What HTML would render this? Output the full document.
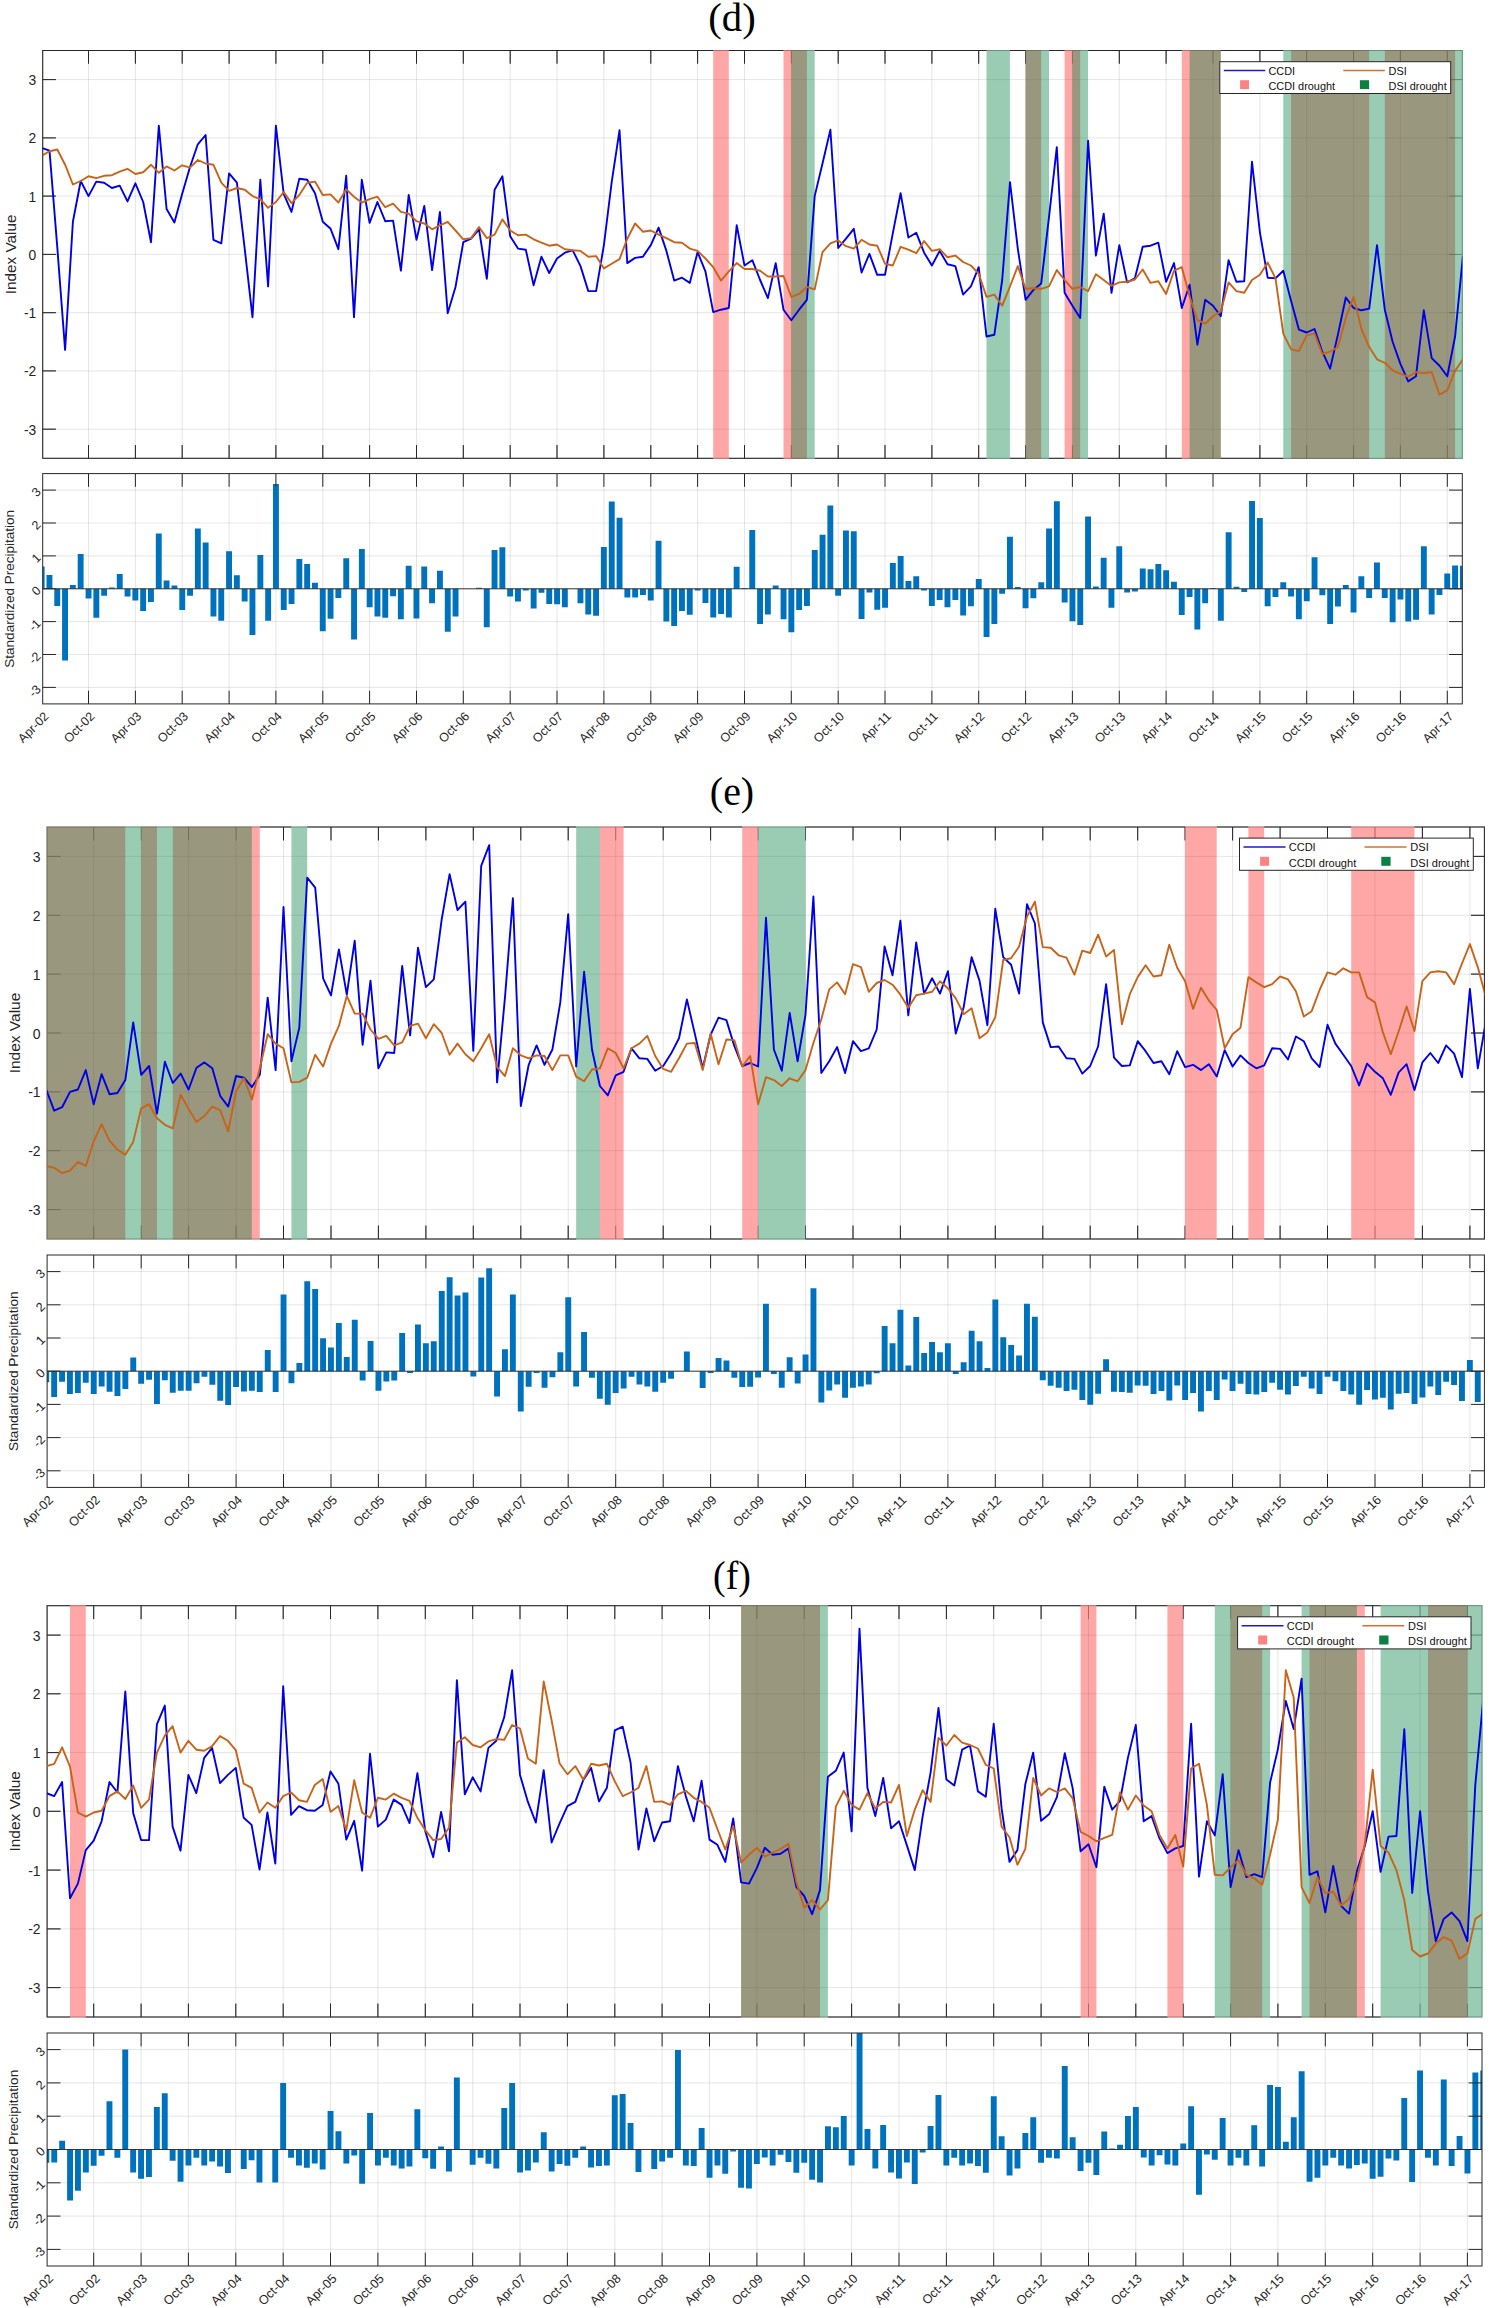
<!DOCTYPE html>
<html><head><meta charset="utf-8"><title>CCDI and DSI drought index comparison</title>
<style>
html,body{margin:0;padding:0;background:#fff}
svg{display:block}
text{font-family:"Liberation Sans",Arial,sans-serif;fill:#262626}
.ttl{font-family:"Liberation Serif","DejaVu Serif",serif;font-size:41px;text-anchor:middle;fill:#000}
.tk{font-size:14px}
.e{text-anchor:end}
.lab{font-size:15.5px;text-anchor:middle}
.lab2{font-size:13.7px;text-anchor:middle}
.lg{font-size:11.05px;fill:#111}
.grid{stroke:#262626;stroke-opacity:.115;stroke-width:1;fill:none}
.ax{stroke:#262626;stroke-width:1;fill:none}
.box{stroke:#262626;stroke-width:1;fill:none}
.un{opacity:.42}
.base{stroke:#262626;stroke-width:0.9;fill:none}
.leg{stroke:#262626;stroke-width:1;fill:#fff}
.pr{fill:#ff0000;fill-opacity:.345}
.pg{fill:#008040;fill-opacity:.4}
.lb{stroke:#0000e6;stroke-width:1.9;fill:none;stroke-linejoin:round}
.lo{stroke:#c8641a;stroke-width:1.9;fill:none;stroke-linejoin:round}
.ll{stroke-width:1.5;fill:none}
.lbc{stroke:#1c1cc4}
.loc{stroke:#d9702a}
.bar{fill:#0072bd}
</style></head>
<body>
<svg width="1498" height="2308" viewBox="0 0 1498 2308">
<rect width="1498" height="2308" fill="#fff"/>
<text class="ttl" x="732" y="30.5" textLength="47.5" lengthAdjust="spacingAndGlyphs">(d)</text>
<clipPath id="c1"><rect x="42.7" y="50.5" width="1419.6" height="407.8"/></clipPath>
<path class="grid" d="M88.5 50.5V458.3M135.4 50.5V458.3M182.2 50.5V458.3M229.1 50.5V458.3M275.9 50.5V458.3M322.8 50.5V458.3M369.6 50.5V458.3M416.5 50.5V458.3M463.3 50.5V458.3M510.2 50.5V458.3M557 50.5V458.3M603.9 50.5V458.3M650.8 50.5V458.3M697.6 50.5V458.3M744.5 50.5V458.3M791.3 50.5V458.3M838.2 50.5V458.3M885 50.5V458.3M931.9 50.5V458.3M978.7 50.5V458.3M1025.6 50.5V458.3M1072.4 50.5V458.3M1119.3 50.5V458.3M1166.1 50.5V458.3M1213 50.5V458.3M1259.9 50.5V458.3M1306.7 50.5V458.3M1353.6 50.5V458.3M1400.4 50.5V458.3M1447.3 50.5V458.3M42.7 429.2H1462.3M42.7 370.9H1462.3M42.7 312.7H1462.3M42.7 254.4H1462.3M42.7 196.1H1462.3M42.7 137.9H1462.3M42.7 79.6H1462.3"/>
<g class="un"><path class="ax" d="M88.5 50.5v13.2M88.5 458.3v-13.2M135.4 50.5v13.2M135.4 458.3v-13.2M182.2 50.5v13.2M182.2 458.3v-13.2M229.1 50.5v13.2M229.1 458.3v-13.2M275.9 50.5v13.2M275.9 458.3v-13.2M322.8 50.5v13.2M322.8 458.3v-13.2M369.6 50.5v13.2M369.6 458.3v-13.2M416.5 50.5v13.2M416.5 458.3v-13.2M463.3 50.5v13.2M463.3 458.3v-13.2M510.2 50.5v13.2M510.2 458.3v-13.2M557 50.5v13.2M557 458.3v-13.2M603.9 50.5v13.2M603.9 458.3v-13.2M650.8 50.5v13.2M650.8 458.3v-13.2M697.6 50.5v13.2M697.6 458.3v-13.2M744.5 50.5v13.2M744.5 458.3v-13.2M791.3 50.5v13.2M791.3 458.3v-13.2M838.2 50.5v13.2M838.2 458.3v-13.2M885 50.5v13.2M885 458.3v-13.2M931.9 50.5v13.2M931.9 458.3v-13.2M978.7 50.5v13.2M978.7 458.3v-13.2M1025.6 50.5v13.2M1025.6 458.3v-13.2M1072.4 50.5v13.2M1072.4 458.3v-13.2M1119.3 50.5v13.2M1119.3 458.3v-13.2M1166.1 50.5v13.2M1166.1 458.3v-13.2M1213 50.5v13.2M1213 458.3v-13.2M1259.9 50.5v13.2M1259.9 458.3v-13.2M1306.7 50.5v13.2M1306.7 458.3v-13.2M1353.6 50.5v13.2M1353.6 458.3v-13.2M1400.4 50.5v13.2M1400.4 458.3v-13.2M1447.3 50.5v13.2M1447.3 458.3v-13.2M42.7 429.2h13.2M1462.3 429.2h-13.2M42.7 370.9h13.2M1462.3 370.9h-13.2M42.7 312.7h13.2M1462.3 312.7h-13.2M42.7 254.4h13.2M1462.3 254.4h-13.2M42.7 196.1h13.2M1462.3 196.1h-13.2M42.7 137.9h13.2M1462.3 137.9h-13.2M42.7 79.6h13.2M1462.3 79.6h-13.2"/><rect class="box" x="42.7" y="50.5" width="1419.6" height="407.8"/></g>
<clipPath id="c2"><rect x="42.1" y="49.9" width="1420.8" height="409"/></clipPath>
<g clip-path="url(#c2)">
<rect class="pr" x="713.2" y="49.5" width="15.6" height="409.8"/>
<rect class="pr" x="783.5" y="49.5" width="23.4" height="409.8"/>
<rect class="pr" x="1025.6" y="49.5" width="15.6" height="409.8"/>
<rect class="pr" x="1064.6" y="49.5" width="15.6" height="409.8"/>
<rect class="pr" x="1181.8" y="49.5" width="39" height="409.8"/>
<rect class="pr" x="1291.1" y="49.5" width="78.1" height="409.8"/>
<rect class="pr" x="1384.8" y="49.5" width="70.3" height="409.8"/>
<rect class="pg" x="791.3" y="49.5" width="23.4" height="409.8"/>
<rect class="pg" x="986.5" y="49.5" width="23.4" height="409.8"/>
<rect class="pg" x="1025.6" y="49.5" width="23.4" height="409.8"/>
<rect class="pg" x="1072.4" y="49.5" width="15.6" height="409.8"/>
<rect class="pg" x="1189.6" y="49.5" width="31.2" height="409.8"/>
<rect class="pg" x="1283.3" y="49.5" width="187.4" height="409.8"/>
</g>
<clipPath id="c3"><path clip-rule="evenodd" d="M40.7 48.5H1464.3V460.3H40.7zM713.2 49H728.8V459.8H713.2zM783.5 49H814.7V459.8H783.5zM986.5 49H1010V459.8H986.5zM1025.6 49H1049V459.8H1025.6zM1064.6 49H1088.1V459.8H1064.6zM1181.8 49H1220.8V459.8H1181.8zM1283.3 49H1463.8V459.8H1283.3z"/></clipPath>
<g clip-path="url(#c3)"><path class="ax" d="M88.5 50.5v13.2M88.5 458.3v-13.2M135.4 50.5v13.2M135.4 458.3v-13.2M182.2 50.5v13.2M182.2 458.3v-13.2M229.1 50.5v13.2M229.1 458.3v-13.2M275.9 50.5v13.2M275.9 458.3v-13.2M322.8 50.5v13.2M322.8 458.3v-13.2M369.6 50.5v13.2M369.6 458.3v-13.2M416.5 50.5v13.2M416.5 458.3v-13.2M463.3 50.5v13.2M463.3 458.3v-13.2M510.2 50.5v13.2M510.2 458.3v-13.2M557 50.5v13.2M557 458.3v-13.2M603.9 50.5v13.2M603.9 458.3v-13.2M650.8 50.5v13.2M650.8 458.3v-13.2M697.6 50.5v13.2M697.6 458.3v-13.2M744.5 50.5v13.2M744.5 458.3v-13.2M791.3 50.5v13.2M791.3 458.3v-13.2M838.2 50.5v13.2M838.2 458.3v-13.2M885 50.5v13.2M885 458.3v-13.2M931.9 50.5v13.2M931.9 458.3v-13.2M978.7 50.5v13.2M978.7 458.3v-13.2M1025.6 50.5v13.2M1025.6 458.3v-13.2M1072.4 50.5v13.2M1072.4 458.3v-13.2M1119.3 50.5v13.2M1119.3 458.3v-13.2M1166.1 50.5v13.2M1166.1 458.3v-13.2M1213 50.5v13.2M1213 458.3v-13.2M1259.9 50.5v13.2M1259.9 458.3v-13.2M1306.7 50.5v13.2M1306.7 458.3v-13.2M1353.6 50.5v13.2M1353.6 458.3v-13.2M1400.4 50.5v13.2M1400.4 458.3v-13.2M1447.3 50.5v13.2M1447.3 458.3v-13.2M42.7 429.2h13.2M1462.3 429.2h-13.2M42.7 370.9h13.2M1462.3 370.9h-13.2M42.7 312.7h13.2M1462.3 312.7h-13.2M42.7 254.4h13.2M1462.3 254.4h-13.2M42.7 196.1h13.2M1462.3 196.1h-13.2M42.7 137.9h13.2M1462.3 137.9h-13.2M42.7 79.6h13.2M1462.3 79.6h-13.2"/><rect class="box" x="42.7" y="50.5" width="1419.6" height="407.8"/></g>
<g clip-path="url(#c1)">
<polyline class="lb" points="41.6,147.8 49.5,150.7 57.3,247.4 65.1,349.9 72.9,221.8 80.7,181 88.5,196.1 96.3,181.6 104.1,182.7 111.9,188 119.7,185.7 127.5,201.4 135.4,183.3 143.2,202 151,242.2 158.8,125.7 166.6,209 174.4,222.4 182.2,193.8 190,167 197.8,144.3 205.6,135 213.4,239.8 221.3,243.3 229.1,173.4 236.9,182.7 244.7,248.6 252.5,317.3 260.3,179.8 268.1,286.4 275.9,125.7 283.7,193.8 291.5,211.9 299.3,178.7 307.2,179.8 315,193.2 322.8,221.8 330.6,228.8 338.4,249.2 346.2,175.8 354,317.3 361.8,179.8 369.6,222.9 377.4,202 385.2,221.2 393.1,220.6 400.9,270.7 408.7,195 416.5,239.8 424.3,206 432.1,270.1 439.9,211.9 447.7,313.2 455.5,287 463.3,242.2 471.1,238.7 479,229.3 486.8,278.9 494.6,189.7 502.4,176.3 510.2,236.3 518,248.6 525.8,249.7 533.6,285.3 541.4,256.7 549.2,273 557,258.5 564.9,252.7 572.7,250.3 580.5,266.1 588.3,291.1 596.1,291.1 603.9,245.1 611.7,182.2 619.5,130.3 627.3,263.1 635.1,257.9 642.9,256.7 650.8,245.1 658.6,227.6 666.4,250.9 674.2,280.6 682,277.7 689.8,282.9 697.6,252.1 705.4,271.3 713.2,312.1 721,309.7 728.8,308 736.7,225.3 744.5,265.5 752.3,260.2 760.1,280 767.9,298.1 775.7,263.1 783.5,309.7 791.3,320.2 799.1,309.7 806.9,299.8 814.7,196.1 822.5,163.5 830.4,129.7 838.2,248 846,238.7 853.8,228.8 861.6,272.5 869.4,253.8 877.2,274.8 885,274.8 892.8,233.4 900.6,193.2 908.4,237.5 916.3,232.8 924.1,252.7 931.9,265.5 939.7,250.9 947.5,264.3 955.3,266.1 963.1,294.6 970.9,286.4 978.7,267.2 986.5,336.5 994.3,334.8 1002.2,280 1010,182.2 1017.8,248.6 1025.6,299.8 1033.4,289.9 1041.2,283.5 1049,217.1 1056.8,147.2 1064.6,292.8 1072.4,305.7 1080.2,317.9 1088.1,140.8 1095.9,255.6 1103.7,213.6 1111.5,292.8 1119.3,245.1 1127.1,282.4 1134.9,278.3 1142.7,246.8 1150.5,245.7 1158.3,242.7 1166.1,281.8 1174,263.1 1181.8,308 1189.6,284.7 1197.4,344.7 1205.2,299.8 1213,305.7 1220.8,316.2 1228.6,260.2 1236.4,281.8 1244.2,281.2 1252,161.8 1259.9,232.3 1267.7,277.7 1275.5,278.3 1283.3,270.7 1291.1,301 1298.9,329.6 1306.7,332.5 1314.5,329 1322.3,351.7 1330.1,368.6 1337.9,334.8 1345.8,297.5 1353.6,308 1361.4,310.3 1369.2,308.6 1377,245.1 1384.8,309.7 1392.6,341.8 1400.4,363.9 1408.2,381.4 1416,376.2 1423.8,310.3 1431.7,358.1 1439.5,365.7 1447.3,376.2 1455.1,336.5 1462.9,256.1"/>
<polyline class="lo" points="41.6,155.9 49.5,151.3 57.3,149.5 65.1,164.7 72.9,184.5 80.7,181 88.5,176.3 96.3,178.1 104.1,175.8 111.9,175.2 119.7,171.7 127.5,168.8 135.4,174 143.2,172.3 151,164.7 158.8,172.8 166.6,166.4 174.4,170.5 182.2,165.3 190,167.6 197.8,160 205.6,163.5 213.4,164.7 221.3,182.7 229.1,190.9 236.9,188 244.7,189.7 252.5,196.1 260.3,199.1 268.1,207.8 275.9,202 283.7,192.1 291.5,203.1 299.3,195 307.2,182.7 315,181.6 322.8,195 330.6,194.4 338.4,202.6 346.2,189.2 354,196.7 361.8,202.6 369.6,199.1 377.4,196.7 385.2,207.2 393.1,203.7 400.9,211.9 408.7,213.6 416.5,221.2 424.3,223.5 432.1,229.3 439.9,225.3 447.7,221.8 455.5,230.5 463.3,239.3 471.1,238.1 479,227 486.8,238.1 494.6,234.6 502.4,219.4 510.2,230.5 518,235.2 525.8,234.6 533.6,239.3 541.4,242.7 549.2,245.7 557,244.5 564.9,249.2 572.7,250.3 580.5,250.9 588.3,256.7 596.1,256.1 603.9,268.4 611.7,263.7 619.5,259.1 627.3,238.7 635.1,223.5 642.9,231.7 650.8,230.5 658.6,234.6 666.4,238.1 674.2,242.2 682,242.7 689.8,248.6 697.6,250.9 705.4,258.5 713.2,267.2 721,280.6 728.8,271.3 736.7,263.1 744.5,269 752.3,269 760.1,270.7 767.9,276.5 775.7,276.5 783.5,276 791.3,296.9 799.1,294 806.9,287 814.7,289.4 822.5,252.1 830.4,243.3 838.2,240.4 846,246.2 853.8,248.6 861.6,239.8 869.4,244.5 877.2,245.7 885,263.7 892.8,265.5 900.6,246.8 908.4,249.7 916.3,253.2 924.1,241 931.9,250.9 939.7,249.2 947.5,257.3 955.3,255.6 963.1,262 970.9,265.5 978.7,273.6 986.5,296.9 994.3,294.6 1002.2,305.7 1010,286.4 1017.8,266.1 1025.6,288.8 1033.4,288.2 1041.2,288.8 1049,286.4 1056.8,270.1 1064.6,280 1072.4,288.8 1080.2,287 1088.1,291.1 1095.9,274.2 1103.7,280 1111.5,285.9 1119.3,282.4 1127.1,281.8 1134.9,279.5 1142.7,269.5 1150.5,282.9 1158.3,281.2 1166.1,294 1174,270.7 1181.8,267.2 1189.6,296.3 1197.4,320.2 1205.2,323.7 1213,316.2 1220.8,311.5 1228.6,282.4 1236.4,291.1 1244.2,292.8 1252,280 1259.9,274.8 1267.7,262.6 1275.5,278.3 1283.3,333.6 1291.1,349.4 1298.9,351.1 1306.7,335.4 1314.5,333.6 1322.3,354 1330.1,351.7 1337.9,347 1345.8,317.9 1353.6,296.9 1361.4,329 1369.2,347 1377,359.3 1384.8,362.8 1392.6,370.3 1400.4,373.8 1408.2,376.7 1416,372.1 1423.8,373.2 1431.7,372.1 1439.5,394.8 1447.3,390.1 1455.1,370.9 1462.9,359.3"/>
</g>
<text class="tk e" style="font-size:13.83px" x="36.3" y="434.6">-3</text>
<text class="tk e" style="font-size:13.83px" x="36.3" y="376.3">-2</text>
<text class="tk e" style="font-size:13.83px" x="36.3" y="318.1">-1</text>
<text class="tk e" style="font-size:13.83px" x="36.3" y="259.8">0</text>
<text class="tk e" style="font-size:13.83px" x="36.3" y="201.6">1</text>
<text class="tk e" style="font-size:13.83px" x="36.3" y="143.3">2</text>
<text class="tk e" style="font-size:13.83px" x="36.3" y="85.1">3</text>
<text class="lab" style="font-size:15.31px" transform="translate(16.3 254.4) rotate(-90)">Index Value</text>
<rect class="leg" x="1219.8" y="61.7" width="230.9" height="31.8"/>
<path class="ll lbc" d="M1223.8 70.6h41.5"/>
<path class="ll loc" d="M1343.3 70.6h41.5"/>
<rect x="1240.1" y="80.2" width="8.9" height="8.9" fill="#fa8383"/>
<rect x="1359.9" y="80.2" width="9.2" height="8.9" fill="#0b8043"/>
<text class="lg" style="font-size:10.91px" x="1268.4" y="74.7">CCDI</text>
<text class="lg" style="font-size:10.91px" x="1388.5" y="74.7">DSI</text>
<text class="lg" style="font-size:10.91px" x="1268.4" y="89.9">CCDI drought</text>
<text class="lg" style="font-size:10.91px" x="1388.5" y="89.9">DSI drought</text>
<clipPath id="c4"><rect x="42.7" y="473.6" width="1419.6" height="230.3"/></clipPath>
<path class="grid" d="M88.5 473.6V703.9M135.4 473.6V703.9M182.2 473.6V703.9M229.1 473.6V703.9M275.9 473.6V703.9M322.8 473.6V703.9M369.6 473.6V703.9M416.5 473.6V703.9M463.3 473.6V703.9M510.2 473.6V703.9M557 473.6V703.9M603.9 473.6V703.9M650.8 473.6V703.9M697.6 473.6V703.9M744.5 473.6V703.9M791.3 473.6V703.9M838.2 473.6V703.9M885 473.6V703.9M931.9 473.6V703.9M978.7 473.6V703.9M1025.6 473.6V703.9M1072.4 473.6V703.9M1119.3 473.6V703.9M1166.1 473.6V703.9M1213 473.6V703.9M1259.9 473.6V703.9M1306.7 473.6V703.9M1353.6 473.6V703.9M1400.4 473.6V703.9M1447.3 473.6V703.9M42.7 687.4H1462.3M42.7 654.5H1462.3M42.7 621.6H1462.3M42.7 588.8H1462.3M42.7 555.9H1462.3M42.7 523H1462.3M42.7 490.1H1462.3"/>
<path class="bar" clip-path="url(#c4)" d="M38.7 566.4h5.9V588.8h-5.9zM46.5 574.9h5.9V588.8h-5.9zM54.3 588.8h5.9V605.9h-5.9zM62.1 588.8h5.9V660.5h-5.9zM69.9 585.1h5.9V588.8h-5.9zM77.7 553.9h5.9V588.8h-5.9zM85.6 588.8h5.9V598.6h-5.9zM93.4 588.8h5.9V617.7h-5.9zM101.2 588.8h5.9V595.7h-5.9zM109 587.4h5.9V588.8h-5.9zM116.8 573.9h5.9V588.8h-5.9zM124.6 588.8h5.9V596.6h-5.9zM132.4 588.8h5.9V600.6h-5.9zM140.2 588.8h5.9V611.1h-5.9zM148 588.8h5.9V601.9h-5.9zM155.8 533.5h5.9V588.8h-5.9zM163.6 580.5h5.9V588.8h-5.9zM171.5 585.5h5.9V588.8h-5.9zM179.3 588.8h5.9V610.1h-5.9zM187.1 588.8h5.9V595.7h-5.9zM194.9 528.5h5.9V588.8h-5.9zM202.7 542.4h5.9V588.8h-5.9zM210.5 588.8h5.9V616.4h-5.9zM218.3 588.8h5.9V620.7h-5.9zM226.1 551.2h5.9V588.8h-5.9zM233.9 575.3h5.9V588.8h-5.9zM241.7 588.8h5.9V601.6h-5.9zM249.5 588.8h5.9V635.1h-5.9zM257.4 554.9h5.9V588.8h-5.9zM265.2 588.8h5.9V620.7h-5.9zM273 484.1h5.9V588.8h-5.9zM280.8 588.8h5.9V610.1h-5.9zM288.6 588.8h5.9V603.9h-5.9zM296.4 559.1h5.9V588.8h-5.9zM304.2 564.1h5.9V588.8h-5.9zM312 582.8h5.9V588.8h-5.9zM319.8 588.8h5.9V631.2h-5.9zM327.6 588.8h5.9V618.7h-5.9zM335.4 588.8h5.9V598.0h-5.9zM343.3 558.2h5.9V588.8h-5.9zM351.1 588.8h5.9V639.4h-5.9zM358.9 548.9h5.9V588.8h-5.9zM366.7 588.8h5.9V607.2h-5.9zM374.5 588.8h5.9V616.4h-5.9zM382.3 588.8h5.9V617.7h-5.9zM390.1 588.8h5.9V596.3h-5.9zM397.9 588.8h5.9V619.3h-5.9zM405.7 565.7h5.9V588.8h-5.9zM413.5 588.8h5.9V618.4h-5.9zM421.3 566.4h5.9V588.8h-5.9zM429.1 588.8h5.9V603.2h-5.9zM437 570.7h5.9V588.8h-5.9zM444.8 588.8h5.9V631.8h-5.9zM452.6 588.8h5.9V616.4h-5.9zM476 587.8h5.9V588.8h-5.9zM483.8 588.8h5.9V627.2h-5.9zM491.6 549.9h5.9V588.8h-5.9zM499.4 547.3h5.9V588.8h-5.9zM507.2 588.8h5.9V596.6h-5.9zM515 588.8h5.9V601.6h-5.9zM522.9 588.8h5.9V590.4h-5.9zM530.7 588.8h5.9V608.5h-5.9zM538.5 588.8h5.9V592.7h-5.9zM546.3 588.8h5.9V603.9h-5.9zM554.1 588.8h5.9V604.2h-5.9zM561.9 588.8h5.9V607.2h-5.9zM577.5 588.8h5.9V603.2h-5.9zM585.3 588.8h5.9V614.4h-5.9zM593.1 588.8h5.9V615.7h-5.9zM600.9 547.0h5.9V588.8h-5.9zM608.8 501.6h5.9V588.8h-5.9zM616.6 517.7h5.9V588.8h-5.9zM624.4 588.8h5.9V597.6h-5.9zM632.2 588.8h5.9V597.6h-5.9zM640 588.8h5.9V595.0h-5.9zM647.8 588.8h5.9V600.6h-5.9zM655.6 540.7h5.9V588.8h-5.9zM663.4 588.8h5.9V621.6h-5.9zM671.2 588.8h5.9V625.9h-5.9zM679 588.8h5.9V611.1h-5.9zM686.8 588.8h5.9V614.7h-5.9zM694.7 588.8h5.9V590.4h-5.9zM702.5 588.8h5.9V602.9h-5.9zM710.3 588.8h5.9V617.4h-5.9zM718.1 588.8h5.9V614.1h-5.9zM725.9 588.8h5.9V617.4h-5.9zM733.7 566.7h5.9V588.8h-5.9zM741.5 588.1h5.9V588.8h-5.9zM749.3 529.9h5.9V588.8h-5.9zM757.1 588.8h5.9V624.0h-5.9zM764.9 588.8h5.9V614.4h-5.9zM772.7 585.5h5.9V588.8h-5.9zM780.6 588.8h5.9V619.3h-5.9zM788.4 588.8h5.9V632.2h-5.9zM796.2 588.8h5.9V610.1h-5.9zM804 588.8h5.9V605.9h-5.9zM811.8 549.9h5.9V588.8h-5.9zM819.6 534.8h5.9V588.8h-5.9zM827.4 505.5h5.9V588.8h-5.9zM835.2 588.8h5.9V595.7h-5.9zM843 530.5h5.9V588.8h-5.9zM850.8 531.2h5.9V588.8h-5.9zM858.6 588.8h5.9V619.0h-5.9zM866.5 588.8h5.9V592.4h-5.9zM874.3 588.8h5.9V609.8h-5.9zM882.1 588.8h5.9V607.8h-5.9zM889.9 563.1h5.9V588.8h-5.9zM897.7 555.9h5.9V588.8h-5.9zM905.5 580.9h5.9V588.8h-5.9zM913.3 576.2h5.9V588.8h-5.9zM921.1 588.8h5.9V590.4h-5.9zM928.9 588.8h5.9V605.9h-5.9zM936.7 588.8h5.9V599.9h-5.9zM944.5 588.8h5.9V607.2h-5.9zM952.4 588.8h5.9V599.9h-5.9zM960.2 588.8h5.9V615.4h-5.9zM968 588.8h5.9V606.2h-5.9zM975.8 578.9h5.9V588.8h-5.9zM983.6 588.8h5.9V637.1h-5.9zM991.4 588.8h5.9V624.0h-5.9zM999.2 588.8h5.9V593.7h-5.9zM1007 536.8h5.9V588.8h-5.9zM1014.8 587.1h5.9V588.8h-5.9zM1022.6 588.8h5.9V608.2h-5.9zM1030.4 588.8h5.9V598.3h-5.9zM1038.3 582.2h5.9V588.8h-5.9zM1046.1 528.5h5.9V588.8h-5.9zM1053.9 501.2h5.9V588.8h-5.9zM1061.7 588.8h5.9V602.6h-5.9zM1069.5 588.8h5.9V621.3h-5.9zM1077.3 588.8h5.9V624.9h-5.9zM1085.1 516.4h5.9V588.8h-5.9zM1092.9 586.4h5.9V588.8h-5.9zM1100.7 557.8h5.9V588.8h-5.9zM1108.5 588.8h5.9V607.8h-5.9zM1116.3 546.3h5.9V588.8h-5.9zM1124.2 588.8h5.9V592.4h-5.9zM1132 588.8h5.9V591.4h-5.9zM1139.8 568.4h5.9V588.8h-5.9zM1147.6 569.3h5.9V588.8h-5.9zM1155.4 564.1h5.9V588.8h-5.9zM1163.2 570.3h5.9V588.8h-5.9zM1171 581.8h5.9V588.8h-5.9zM1178.8 588.8h5.9V615.1h-5.9zM1186.6 588.8h5.9V597.0h-5.9zM1194.4 588.8h5.9V629.5h-5.9zM1202.2 588.8h5.9V603.2h-5.9zM1210.1 588.1h5.9V588.8h-5.9zM1217.9 588.8h5.9V620.7h-5.9zM1225.7 532.2h5.9V588.8h-5.9zM1233.5 586.8h5.9V588.8h-5.9zM1241.3 588.8h5.9V592.0h-5.9zM1249.1 500.9h5.9V588.8h-5.9zM1256.9 518.0h5.9V588.8h-5.9zM1264.7 588.8h5.9V606.2h-5.9zM1272.5 588.8h5.9V597.0h-5.9zM1280.3 582.2h5.9V588.8h-5.9zM1288.1 588.8h5.9V596.6h-5.9zM1295.9 588.8h5.9V619.3h-5.9zM1303.8 588.8h5.9V601.3h-5.9zM1311.6 557.2h5.9V588.8h-5.9zM1319.4 588.8h5.9V595.3h-5.9zM1327.2 588.8h5.9V624.0h-5.9zM1335 588.8h5.9V606.5h-5.9zM1342.8 585.1h5.9V588.8h-5.9zM1350.6 588.8h5.9V612.4h-5.9zM1358.4 576.2h5.9V588.8h-5.9zM1366.2 588.8h5.9V598.0h-5.9zM1374 562.4h5.9V588.8h-5.9zM1381.8 588.8h5.9V598.0h-5.9zM1389.7 588.8h5.9V622.3h-5.9zM1397.5 588.8h5.9V599.6h-5.9zM1405.3 588.8h5.9V621.6h-5.9zM1413.1 588.8h5.9V619.7h-5.9zM1420.9 546.3h5.9V588.8h-5.9zM1428.7 588.8h5.9V614.4h-5.9zM1436.5 588.8h5.9V595.0h-5.9zM1444.3 573.6h5.9V588.8h-5.9zM1452.1 565.4h5.9V588.8h-5.9zM1459.9 565.7h5.9V588.8h-5.9z"/>
<path class="base" d="M42.7 588.8H1462.3"/>
<path class="ax" d="M88.5 473.6v13.2M88.5 703.9v-13.2M135.4 473.6v13.2M135.4 703.9v-13.2M182.2 473.6v13.2M182.2 703.9v-13.2M229.1 473.6v13.2M229.1 703.9v-13.2M275.9 473.6v13.2M275.9 703.9v-13.2M322.8 473.6v13.2M322.8 703.9v-13.2M369.6 473.6v13.2M369.6 703.9v-13.2M416.5 473.6v13.2M416.5 703.9v-13.2M463.3 473.6v13.2M463.3 703.9v-13.2M510.2 473.6v13.2M510.2 703.9v-13.2M557 473.6v13.2M557 703.9v-13.2M603.9 473.6v13.2M603.9 703.9v-13.2M650.8 473.6v13.2M650.8 703.9v-13.2M697.6 473.6v13.2M697.6 703.9v-13.2M744.5 473.6v13.2M744.5 703.9v-13.2M791.3 473.6v13.2M791.3 703.9v-13.2M838.2 473.6v13.2M838.2 703.9v-13.2M885 473.6v13.2M885 703.9v-13.2M931.9 473.6v13.2M931.9 703.9v-13.2M978.7 473.6v13.2M978.7 703.9v-13.2M1025.6 473.6v13.2M1025.6 703.9v-13.2M1072.4 473.6v13.2M1072.4 703.9v-13.2M1119.3 473.6v13.2M1119.3 703.9v-13.2M1166.1 473.6v13.2M1166.1 703.9v-13.2M1213 473.6v13.2M1213 703.9v-13.2M1259.9 473.6v13.2M1259.9 703.9v-13.2M1306.7 473.6v13.2M1306.7 703.9v-13.2M1353.6 473.6v13.2M1353.6 703.9v-13.2M1400.4 473.6v13.2M1400.4 703.9v-13.2M1447.3 473.6v13.2M1447.3 703.9v-13.2M42.7 687.4h13.2M1462.3 687.4h-13.2M42.7 654.5h13.2M1462.3 654.5h-13.2M42.7 621.6h13.2M1462.3 621.6h-13.2M42.7 588.8h13.2M1462.3 588.8h-13.2M42.7 555.9h13.2M1462.3 555.9h-13.2M42.7 523h13.2M1462.3 523h-13.2M42.7 490.1h13.2M1462.3 490.1h-13.2"/>
<rect class="box" x="42.7" y="473.6" width="1419.6" height="230.3"/>
<text class="tk e" style="font-size:12.45px" transform="translate(41.6 690.1) rotate(-45)">-3</text>
<text class="tk e" style="font-size:12.45px" transform="translate(41.6 657.2) rotate(-45)">-2</text>
<text class="tk e" style="font-size:12.45px" transform="translate(41.6 624.3) rotate(-45)">-1</text>
<text class="tk e" style="font-size:12.45px" transform="translate(41.6 591.4) rotate(-45)">0</text>
<text class="tk e" style="font-size:12.45px" transform="translate(41.6 558.5) rotate(-45)">1</text>
<text class="tk e" style="font-size:12.45px" transform="translate(41.6 525.6) rotate(-45)">2</text>
<text class="tk e" style="font-size:12.45px" transform="translate(41.6 492.7) rotate(-45)">3</text>
<text class="lab2" style="font-size:13.53px" transform="translate(14.3 588.8) rotate(-90)">Standardized Precipitation</text>
<text class="tk e" style="font-size:12.45px" transform="translate(49.5 717) rotate(-45)">Apr-02</text>
<text class="tk e" style="font-size:12.45px" transform="translate(95.3 717) rotate(-45)">Oct-02</text>
<text class="tk e" style="font-size:12.45px" transform="translate(142.2 717) rotate(-45)">Apr-03</text>
<text class="tk e" style="font-size:12.45px" transform="translate(189 717) rotate(-45)">Oct-03</text>
<text class="tk e" style="font-size:12.45px" transform="translate(235.9 717) rotate(-45)">Apr-04</text>
<text class="tk e" style="font-size:12.45px" transform="translate(282.7 717) rotate(-45)">Oct-04</text>
<text class="tk e" style="font-size:12.45px" transform="translate(329.6 717) rotate(-45)">Apr-05</text>
<text class="tk e" style="font-size:12.45px" transform="translate(376.4 717) rotate(-45)">Oct-05</text>
<text class="tk e" style="font-size:12.45px" transform="translate(423.3 717) rotate(-45)">Apr-06</text>
<text class="tk e" style="font-size:12.45px" transform="translate(470.2 717) rotate(-45)">Oct-06</text>
<text class="tk e" style="font-size:12.45px" transform="translate(517 717) rotate(-45)">Apr-07</text>
<text class="tk e" style="font-size:12.45px" transform="translate(563.9 717) rotate(-45)">Oct-07</text>
<text class="tk e" style="font-size:12.45px" transform="translate(610.7 717) rotate(-45)">Apr-08</text>
<text class="tk e" style="font-size:12.45px" transform="translate(657.6 717) rotate(-45)">Oct-08</text>
<text class="tk e" style="font-size:12.45px" transform="translate(704.4 717) rotate(-45)">Apr-09</text>
<text class="tk e" style="font-size:12.45px" transform="translate(751.3 717) rotate(-45)">Oct-09</text>
<text class="tk e" style="font-size:12.45px" transform="translate(798.1 717) rotate(-45)">Apr-10</text>
<text class="tk e" style="font-size:12.45px" transform="translate(845 717) rotate(-45)">Oct-10</text>
<text class="tk e" style="font-size:12.45px" transform="translate(891.8 717) rotate(-45)">Apr-11</text>
<text class="tk e" style="font-size:12.45px" transform="translate(938.7 717) rotate(-45)">Oct-11</text>
<text class="tk e" style="font-size:12.45px" transform="translate(985.5 717) rotate(-45)">Apr-12</text>
<text class="tk e" style="font-size:12.45px" transform="translate(1032.4 717) rotate(-45)">Oct-12</text>
<text class="tk e" style="font-size:12.45px" transform="translate(1079.3 717) rotate(-45)">Apr-13</text>
<text class="tk e" style="font-size:12.45px" transform="translate(1126.1 717) rotate(-45)">Oct-13</text>
<text class="tk e" style="font-size:12.45px" transform="translate(1173 717) rotate(-45)">Apr-14</text>
<text class="tk e" style="font-size:12.45px" transform="translate(1219.8 717) rotate(-45)">Oct-14</text>
<text class="tk e" style="font-size:12.45px" transform="translate(1266.7 717) rotate(-45)">Apr-15</text>
<text class="tk e" style="font-size:12.45px" transform="translate(1313.5 717) rotate(-45)">Oct-15</text>
<text class="tk e" style="font-size:12.45px" transform="translate(1360.4 717) rotate(-45)">Apr-16</text>
<text class="tk e" style="font-size:12.45px" transform="translate(1407.2 717) rotate(-45)">Oct-16</text>
<text class="tk e" style="font-size:12.45px" transform="translate(1454.1 717) rotate(-45)">Apr-17</text>
<text class="ttl" x="732" y="805" textLength="44.3" lengthAdjust="spacingAndGlyphs">(e)</text>
<clipPath id="c5"><rect x="47.1" y="827" width="1437.3" height="412"/></clipPath>
<path class="grid" d="M93.7 827V1239M141.2 827V1239M188.6 827V1239M236.1 827V1239M283.5 827V1239M331 827V1239M378.4 827V1239M425.9 827V1239M473.3 827V1239M520.8 827V1239M568.2 827V1239M615.7 827V1239M663.2 827V1239M710.6 827V1239M758.1 827V1239M805.5 827V1239M853 827V1239M900.4 827V1239M947.9 827V1239M995.3 827V1239M1042.8 827V1239M1090.2 827V1239M1137.7 827V1239M1185.1 827V1239M1232.6 827V1239M1280.1 827V1239M1327.5 827V1239M1375 827V1239M1422.4 827V1239M1469.9 827V1239M47.1 1209.6H1484.4M47.1 1150.7H1484.4M47.1 1091.9H1484.4M47.1 1033H1484.4M47.1 974.1H1484.4M47.1 915.3H1484.4M47.1 856.4H1484.4"/>
<g class="un"><path class="ax" d="M93.7 827v13.4M93.7 1239v-13.4M141.2 827v13.4M141.2 1239v-13.4M188.6 827v13.4M188.6 1239v-13.4M236.1 827v13.4M236.1 1239v-13.4M283.5 827v13.4M283.5 1239v-13.4M331 827v13.4M331 1239v-13.4M378.4 827v13.4M378.4 1239v-13.4M425.9 827v13.4M425.9 1239v-13.4M473.3 827v13.4M473.3 1239v-13.4M520.8 827v13.4M520.8 1239v-13.4M568.2 827v13.4M568.2 1239v-13.4M615.7 827v13.4M615.7 1239v-13.4M663.2 827v13.4M663.2 1239v-13.4M710.6 827v13.4M710.6 1239v-13.4M758.1 827v13.4M758.1 1239v-13.4M805.5 827v13.4M805.5 1239v-13.4M853 827v13.4M853 1239v-13.4M900.4 827v13.4M900.4 1239v-13.4M947.9 827v13.4M947.9 1239v-13.4M995.3 827v13.4M995.3 1239v-13.4M1042.8 827v13.4M1042.8 1239v-13.4M1090.2 827v13.4M1090.2 1239v-13.4M1137.7 827v13.4M1137.7 1239v-13.4M1185.1 827v13.4M1185.1 1239v-13.4M1232.6 827v13.4M1232.6 1239v-13.4M1280.1 827v13.4M1280.1 1239v-13.4M1327.5 827v13.4M1327.5 1239v-13.4M1375 827v13.4M1375 1239v-13.4M1422.4 827v13.4M1422.4 1239v-13.4M1469.9 827v13.4M1469.9 1239v-13.4M47.1 1209.6h13.4M1484.4 1209.6h-13.4M47.1 1150.7h13.4M1484.4 1150.7h-13.4M47.1 1091.9h13.4M1484.4 1091.9h-13.4M47.1 1033h13.4M1484.4 1033h-13.4M47.1 974.1h13.4M1484.4 974.1h-13.4M47.1 915.3h13.4M1484.4 915.3h-13.4M47.1 856.4h13.4M1484.4 856.4h-13.4"/><rect class="box" x="47.1" y="827" width="1437.3" height="412"/></g>
<clipPath id="c6"><rect x="46.5" y="826.4" width="1438.5" height="413.2"/></clipPath>
<g clip-path="url(#c6)">
<rect class="pr" x="46.2" y="826" width="79.1" height="414"/>
<rect class="pr" x="141.2" y="826" width="15.8" height="414"/>
<rect class="pr" x="172.8" y="826" width="87" height="414"/>
<rect class="pr" x="599.9" y="826" width="23.7" height="414"/>
<rect class="pr" x="742.2" y="826" width="15.8" height="414"/>
<rect class="pr" x="1185.1" y="826" width="31.6" height="414"/>
<rect class="pr" x="1248.4" y="826" width="15.8" height="414"/>
<rect class="pr" x="1351.2" y="826" width="63.3" height="414"/>
<rect class="pg" x="46.2" y="826" width="205.6" height="414"/>
<rect class="pg" x="291.4" y="826" width="15.8" height="414"/>
<rect class="pg" x="576.2" y="826" width="23.7" height="414"/>
<rect class="pg" x="758.1" y="826" width="47.5" height="414"/>
</g>
<clipPath id="c7"><path clip-rule="evenodd" d="M45.1 825H1486.4V1241H45.1zM46.2 825.5H259.8V1240.5H46.2zM291.4 825.5H307.2V1240.5H291.4zM576.2 825.5H623.6V1240.5H576.2zM742.2 825.5H805.5V1240.5H742.2zM1185.1 825.5H1216.8V1240.5H1185.1zM1248.4 825.5H1264.2V1240.5H1248.4zM1351.2 825.5H1414.5V1240.5H1351.2z"/></clipPath>
<g clip-path="url(#c7)"><path class="ax" d="M93.7 827v13.4M93.7 1239v-13.4M141.2 827v13.4M141.2 1239v-13.4M188.6 827v13.4M188.6 1239v-13.4M236.1 827v13.4M236.1 1239v-13.4M283.5 827v13.4M283.5 1239v-13.4M331 827v13.4M331 1239v-13.4M378.4 827v13.4M378.4 1239v-13.4M425.9 827v13.4M425.9 1239v-13.4M473.3 827v13.4M473.3 1239v-13.4M520.8 827v13.4M520.8 1239v-13.4M568.2 827v13.4M568.2 1239v-13.4M615.7 827v13.4M615.7 1239v-13.4M663.2 827v13.4M663.2 1239v-13.4M710.6 827v13.4M710.6 1239v-13.4M758.1 827v13.4M758.1 1239v-13.4M805.5 827v13.4M805.5 1239v-13.4M853 827v13.4M853 1239v-13.4M900.4 827v13.4M900.4 1239v-13.4M947.9 827v13.4M947.9 1239v-13.4M995.3 827v13.4M995.3 1239v-13.4M1042.8 827v13.4M1042.8 1239v-13.4M1090.2 827v13.4M1090.2 1239v-13.4M1137.7 827v13.4M1137.7 1239v-13.4M1185.1 827v13.4M1185.1 1239v-13.4M1232.6 827v13.4M1232.6 1239v-13.4M1280.1 827v13.4M1280.1 1239v-13.4M1327.5 827v13.4M1327.5 1239v-13.4M1375 827v13.4M1375 1239v-13.4M1422.4 827v13.4M1422.4 1239v-13.4M1469.9 827v13.4M1469.9 1239v-13.4M47.1 1209.6h13.4M1484.4 1209.6h-13.4M47.1 1150.7h13.4M1484.4 1150.7h-13.4M47.1 1091.9h13.4M1484.4 1091.9h-13.4M47.1 1033h13.4M1484.4 1033h-13.4M47.1 974.1h13.4M1484.4 974.1h-13.4M47.1 915.3h13.4M1484.4 915.3h-13.4M47.1 856.4h13.4M1484.4 856.4h-13.4"/><rect class="box" x="47.1" y="827" width="1437.3" height="412"/></g>
<g clip-path="url(#c5)">
<polyline class="lb" points="46.2,1089.5 54.2,1110.7 62.1,1107.2 70,1091.9 77.9,1089.5 85.8,1070.1 93.7,1104.2 101.6,1074.2 109.5,1094.2 117.4,1093 125.3,1080.1 133.2,1022.4 141.2,1074.8 149.1,1066 157,1113.6 164.9,1061.8 172.8,1083 180.7,1073.6 188.6,1089.5 196.5,1067.7 204.4,1062.4 212.3,1068.3 220.2,1096 228.2,1106.6 236.1,1076 244,1077.7 251.9,1087.1 259.8,1074.8 267.7,997.7 275.6,1070.1 283.5,907 291.4,1061.3 299.3,1027.7 307.2,877.6 315.2,887.6 323.1,978.3 331,995.3 338.9,949.4 346.8,994.7 354.7,940.6 362.6,1044.8 370.5,980.6 378.4,1068.3 386.3,1052.4 394.2,1053 402.2,965.9 410.1,1035.4 418,947.7 425.9,987.1 433.8,979.4 441.7,919.4 449.6,874.1 457.5,910 465.4,901.7 473.3,1050.7 481.2,865.8 489.2,845.2 497.1,1082.4 505,997.1 512.9,898.2 520.8,1106 528.7,1064.8 536.6,1045.4 544.5,1064.8 552.4,1049.5 560.3,1002.4 568.2,914.1 576.2,1066.5 584.1,971.8 592,1049.5 599.9,1086 607.8,1095.4 615.7,1075.4 623.6,1071.8 631.5,1048.3 639.4,1058.3 647.3,1058.9 655.2,1070.7 663.2,1066 671.1,1053.6 679,1038.3 686.9,999.5 694.8,1033.6 702.7,1068.3 710.6,1034.8 718.5,1017.7 726.4,1020.1 734.3,1045.9 742.2,1066 750.2,1063 758.1,1066.5 766,917.6 773.9,1049.5 781.8,1070.7 789.7,1013 797.6,1061.3 805.5,1014.8 813.4,896.5 821.3,1073 829.2,1061.3 837.1,1047.1 845.1,1073 853,1041.2 860.9,1051.2 868.8,1048.3 876.7,1029.5 884.6,946.5 892.5,975.3 900.4,920.6 908.3,1015.3 916.2,942.4 924.1,993.6 932.1,978.3 940,993.6 947.9,971.2 955.8,1033.6 963.7,1007.1 971.6,957.1 979.5,980.6 987.4,1025.3 995.3,908.8 1003.2,957.1 1011.1,964.7 1019.1,993.6 1027,904.1 1034.9,923.5 1042.8,1022.4 1050.7,1047.1 1058.6,1046.5 1066.5,1058.3 1074.4,1058.9 1082.3,1073.6 1090.2,1066 1098.1,1046.5 1106.1,984.1 1114,1057.7 1121.9,1066 1129.8,1065.4 1137.7,1041.2 1145.6,1051.2 1153.5,1063 1161.4,1061.3 1169.3,1074.2 1177.2,1051.2 1185.1,1067.1 1193.1,1064.8 1201,1070.1 1208.9,1064.2 1216.8,1076.6 1224.7,1050.1 1232.6,1066.5 1240.5,1055.4 1248.4,1063 1256.3,1068.3 1264.2,1065.4 1272.1,1048.3 1280.1,1048.9 1288,1059.5 1295.9,1036.5 1303.8,1041.2 1311.7,1058.3 1319.6,1067.1 1327.5,1024.8 1335.4,1043.6 1343.3,1054.8 1351.2,1066 1359.1,1085.4 1367.1,1063.6 1375,1071.8 1382.9,1078.3 1390.8,1094.8 1398.7,1072.4 1406.6,1064.2 1414.5,1090.1 1422.4,1062.4 1430.3,1053 1438.2,1063 1446.1,1045.4 1454.1,1053.6 1462,1077.1 1469.9,988.9 1477.8,1068.3 1485.7,1022.4"/>
<polyline class="lo" points="46.2,1166 54.2,1167.8 62.1,1173.1 70,1170.7 77.9,1161.9 85.8,1166 93.7,1141.3 101.6,1124.2 109.5,1140.7 117.4,1149.5 125.3,1154.8 133.2,1141.9 141.2,1108.3 149.1,1104.2 157,1118.3 164.9,1124.8 172.8,1128.3 180.7,1094.8 188.6,1108.9 196.5,1121.9 204.4,1116 212.3,1106.6 220.2,1110.1 228.2,1131.3 236.1,1091.3 244,1078.3 251.9,1099.5 259.8,1068.3 267.7,1034.2 275.6,1043.6 283.5,1048.3 291.4,1082.4 299.3,1081.9 307.2,1077.7 315.2,1054.8 323.1,1066.5 331,1043.6 338.9,1025.9 346.8,995.9 354.7,1013.6 362.6,1013.6 370.5,1029.5 378.4,1038.9 386.3,1035.9 394.2,1045.4 402.2,1042.4 410.1,1025.9 418,1023.6 425.9,1038.3 433.8,1024.2 441.7,1033 449.6,1054.8 457.5,1043.6 465.4,1054.2 473.3,1061.3 481.2,1048.3 489.2,1034.2 497.1,1067.1 505,1076 512.9,1048.3 520.8,1055.4 528.7,1058.3 536.6,1055.4 544.5,1056 552.4,1070.1 560.3,1055.4 568.2,1055.4 576.2,1076.6 584.1,1081.3 592,1069.5 599.9,1068.3 607.8,1048.3 615.7,1053 623.6,1068.3 631.5,1048.3 639.4,1043.6 647.3,1035.9 655.2,1056 663.2,1068.9 671.1,1071.8 679,1058.3 686.9,1043.6 694.8,1043 702.7,1070.1 710.6,1033.6 718.5,1064.2 726.4,1039.5 734.3,1040.1 742.2,1066.5 750.2,1056 758.1,1104.2 766,1077.1 773.9,1080.1 781.8,1086 789.7,1078.3 797.6,1081.3 805.5,1070.1 813.4,1043 821.3,1019.5 829.2,989.4 837.1,982.4 845.1,994.2 853,964.1 860.9,967.1 868.8,991.8 876.7,983 884.6,980 892.5,984.7 900.4,994.7 908.3,1007.7 916.2,995.3 924.1,993.6 932.1,991.8 940,981.2 947.9,988.3 955.8,998.3 963.7,1014.2 971.6,1008.3 979.5,1038.3 987.4,1032.4 995.3,1017.1 1003.2,960 1011.1,958.3 1019.1,946.5 1027,916.5 1034.9,901.7 1042.8,947.1 1050.7,947.7 1058.6,955.3 1066.5,957.7 1074.4,974.7 1082.3,950.6 1090.2,953 1098.1,934.7 1106.1,956.5 1114,950 1121.9,1024.2 1129.8,994.2 1137.7,977.1 1145.6,965.3 1153.5,976.5 1161.4,975.3 1169.3,944.7 1177.2,967.7 1185.1,981.2 1193.1,1008.9 1201,987.7 1208.9,1000.6 1216.8,1010 1224.7,1048.3 1232.6,1034.2 1240.5,1027.7 1248.4,977.1 1256.3,982.4 1264.2,987.1 1272.1,984.1 1280.1,976.5 1288,979.4 1295.9,991.2 1303.8,1016.5 1311.7,1011.2 1319.6,990 1327.5,972.4 1335.4,974.7 1343.3,968.3 1351.2,972.4 1359.1,972.4 1367.1,997.1 1375,1002.4 1382.9,1032.4 1390.8,1054.2 1398.7,1031.2 1406.6,1006.5 1414.5,1031.2 1422.4,981.2 1430.3,972.4 1438.2,971.2 1446.1,972.4 1454.1,984.1 1462,963.5 1469.9,944.1 1477.8,967.1 1485.7,996.5"/>
</g>
<text class="tk e" style="font-size:14.00px" x="40.6" y="1215.1">-3</text>
<text class="tk e" style="font-size:14.00px" x="40.6" y="1156.2">-2</text>
<text class="tk e" style="font-size:14.00px" x="40.6" y="1097.4">-1</text>
<text class="tk e" style="font-size:14.00px" x="40.6" y="1038.5">0</text>
<text class="tk e" style="font-size:14.00px" x="40.6" y="979.6">1</text>
<text class="tk e" style="font-size:14.00px" x="40.6" y="920.8">2</text>
<text class="tk e" style="font-size:14.00px" x="40.6" y="861.9">3</text>
<text class="lab" style="font-size:15.50px" transform="translate(20.4 1033) rotate(-90)">Index Value</text>
<rect class="leg" x="1239.5" y="838.1" width="233.8" height="32.2"/>
<path class="ll lbc" d="M1243.5 847.1h42"/>
<path class="ll loc" d="M1364.5 847.1h42"/>
<rect x="1260.1" y="856.8" width="9" height="9" fill="#fa8383"/>
<rect x="1381.3" y="856.8" width="9.3" height="9" fill="#0b8043"/>
<text class="lg" style="font-size:11.05px" x="1288.7" y="851.3">CCDI</text>
<text class="lg" style="font-size:11.05px" x="1410.3" y="851.3">DSI</text>
<text class="lg" style="font-size:11.05px" x="1288.7" y="866.7">CCDI drought</text>
<text class="lg" style="font-size:11.05px" x="1410.3" y="866.7">DSI drought</text>
<clipPath id="c8"><rect x="47.1" y="1255" width="1437.3" height="232.4"/></clipPath>
<path class="grid" d="M93.7 1255V1487.4M141.2 1255V1487.4M188.6 1255V1487.4M236.1 1255V1487.4M283.5 1255V1487.4M331 1255V1487.4M378.4 1255V1487.4M425.9 1255V1487.4M473.3 1255V1487.4M520.8 1255V1487.4M568.2 1255V1487.4M615.7 1255V1487.4M663.2 1255V1487.4M710.6 1255V1487.4M758.1 1255V1487.4M805.5 1255V1487.4M853 1255V1487.4M900.4 1255V1487.4M947.9 1255V1487.4M995.3 1255V1487.4M1042.8 1255V1487.4M1090.2 1255V1487.4M1137.7 1255V1487.4M1185.1 1255V1487.4M1232.6 1255V1487.4M1280.1 1255V1487.4M1327.5 1255V1487.4M1375 1255V1487.4M1422.4 1255V1487.4M1469.9 1255V1487.4M47.1 1470.8H1484.4M47.1 1437.6H1484.4M47.1 1404.4H1484.4M47.1 1371.2H1484.4M47.1 1338H1484.4M47.1 1304.8H1484.4M47.1 1271.6H1484.4"/>
<path class="bar" clip-path="url(#c8)" d="M43.3 1371.2h5.9V1382.2h-5.9zM51.2 1371.2h5.9V1397.1h-5.9zM59.1 1371.2h5.9V1381.8h-5.9zM67 1371.2h5.9V1394.1h-5.9zM74.9 1371.2h5.9V1393.1h-5.9zM82.8 1371.2h5.9V1382.8h-5.9zM90.8 1371.2h5.9V1394.1h-5.9zM98.7 1371.2h5.9V1386.5h-5.9zM106.6 1371.2h5.9V1391.8h-5.9zM114.5 1371.2h5.9V1396.1h-5.9zM122.4 1371.2h5.9V1389.1h-5.9zM130.3 1357.6h5.9V1371.2h-5.9zM138.2 1371.2h5.9V1383.8h-5.9zM146.1 1371.2h5.9V1379.8h-5.9zM154 1371.2h5.9V1404.1h-5.9zM161.9 1371.2h5.9V1380.2h-5.9zM169.8 1371.2h5.9V1392.8h-5.9zM177.8 1371.2h5.9V1390.8h-5.9zM185.7 1371.2h5.9V1390.8h-5.9zM193.6 1371.2h5.9V1383.2h-5.9zM201.5 1371.2h5.9V1376.8h-5.9zM209.4 1371.2h5.9V1384.8h-5.9zM217.3 1371.2h5.9V1400.7h-5.9zM225.2 1371.2h5.9V1405.1h-5.9zM233.1 1371.2h5.9V1387.1h-5.9zM241 1371.2h5.9V1391.5h-5.9zM248.9 1371.2h5.9V1390.8h-5.9zM256.8 1371.2h5.9V1392.1h-5.9zM264.8 1350.0h5.9V1371.2h-5.9zM272.7 1371.2h5.9V1392.1h-5.9zM280.6 1294.5h5.9V1371.2h-5.9zM288.5 1371.2h5.9V1383.2h-5.9zM296.4 1362.9h5.9V1371.2h-5.9zM304.3 1281.2h5.9V1371.2h-5.9zM312.2 1288.9h5.9V1371.2h-5.9zM320.1 1338.3h5.9V1371.2h-5.9zM328 1347.6h5.9V1371.2h-5.9zM335.9 1323.1h5.9V1371.2h-5.9zM343.8 1356.9h5.9V1371.2h-5.9zM351.8 1319.7h5.9V1371.2h-5.9zM359.7 1371.2h5.9V1380.5h-5.9zM367.6 1341.0h5.9V1371.2h-5.9zM375.5 1371.2h5.9V1390.8h-5.9zM383.4 1371.2h5.9V1381.5h-5.9zM391.3 1371.2h5.9V1380.5h-5.9zM399.2 1333.0h5.9V1371.2h-5.9zM407.1 1371.2h5.9V1372.9h-5.9zM415 1324.4h5.9V1371.2h-5.9zM422.9 1343.3h5.9V1371.2h-5.9zM430.8 1341.3h5.9V1371.2h-5.9zM438.8 1290.9h5.9V1371.2h-5.9zM446.7 1277.2h5.9V1371.2h-5.9zM454.6 1295.5h5.9V1371.2h-5.9zM462.5 1292.5h5.9V1371.2h-5.9zM470.4 1371.2h5.9V1376.5h-5.9zM478.3 1277.6h5.9V1371.2h-5.9zM486.2 1268.3h5.9V1371.2h-5.9zM494.1 1371.2h5.9V1396.4h-5.9zM502 1349.3h5.9V1371.2h-5.9zM509.9 1294.5h5.9V1371.2h-5.9zM517.8 1371.2h5.9V1411.4h-5.9zM525.7 1371.2h5.9V1386.8h-5.9zM533.7 1371.2h5.9V1372.9h-5.9zM541.6 1371.2h5.9V1387.8h-5.9zM549.5 1371.2h5.9V1377.2h-5.9zM557.4 1352.3h5.9V1371.2h-5.9zM565.3 1297.2h5.9V1371.2h-5.9zM573.2 1371.2h5.9V1386.5h-5.9zM581.1 1332.0h5.9V1371.2h-5.9zM589 1371.2h5.9V1377.8h-5.9zM596.9 1371.2h5.9V1398.8h-5.9zM604.8 1371.2h5.9V1404.7h-5.9zM612.7 1371.2h5.9V1393.1h-5.9zM620.7 1371.2h5.9V1388.5h-5.9zM628.6 1371.2h5.9V1376.8h-5.9zM636.5 1371.2h5.9V1384.5h-5.9zM644.4 1371.2h5.9V1386.5h-5.9zM652.3 1371.2h5.9V1391.8h-5.9zM660.2 1371.2h5.9V1382.8h-5.9zM668.1 1371.2h5.9V1378.8h-5.9zM683.9 1351.6h5.9V1371.2h-5.9zM699.7 1371.2h5.9V1388.1h-5.9zM707.7 1371.2h5.9V1372.9h-5.9zM715.6 1357.9h5.9V1371.2h-5.9zM723.5 1360.6h5.9V1371.2h-5.9zM731.4 1371.2h5.9V1377.8h-5.9zM739.3 1371.2h5.9V1387.1h-5.9zM747.2 1371.2h5.9V1386.8h-5.9zM755.1 1371.2h5.9V1377.5h-5.9zM763 1303.8h5.9V1371.2h-5.9zM770.9 1371.2h5.9V1373.9h-5.9zM778.8 1371.2h5.9V1387.8h-5.9zM786.7 1357.3h5.9V1371.2h-5.9zM794.7 1371.2h5.9V1383.5h-5.9zM802.6 1354.6h5.9V1371.2h-5.9zM810.5 1288.2h5.9V1371.2h-5.9zM818.4 1371.2h5.9V1402.4h-5.9zM826.3 1371.2h5.9V1390.5h-5.9zM834.2 1371.2h5.9V1384.5h-5.9zM842.1 1371.2h5.9V1397.8h-5.9zM850 1371.2h5.9V1387.8h-5.9zM857.9 1371.2h5.9V1386.5h-5.9zM865.8 1371.2h5.9V1384.5h-5.9zM873.7 1371.2h5.9V1373.2h-5.9zM881.7 1326.0h5.9V1371.2h-5.9zM889.6 1343.3h5.9V1371.2h-5.9zM897.5 1309.8h5.9V1371.2h-5.9zM905.4 1365.6h5.9V1371.2h-5.9zM913.3 1317.1h5.9V1371.2h-5.9zM921.2 1352.9h5.9V1371.2h-5.9zM929.1 1342.0h5.9V1371.2h-5.9zM937 1352.3h5.9V1371.2h-5.9zM944.9 1343.3h5.9V1371.2h-5.9zM952.8 1371.2h5.9V1373.9h-5.9zM960.7 1362.2h5.9V1371.2h-5.9zM968.7 1330.7h5.9V1371.2h-5.9zM976.6 1341.3h5.9V1371.2h-5.9zM984.5 1367.9h5.9V1371.2h-5.9zM992.4 1299.5h5.9V1371.2h-5.9zM1000.3 1337.3h5.9V1371.2h-5.9zM1008.2 1345.0h5.9V1371.2h-5.9zM1016.1 1355.6h5.9V1371.2h-5.9zM1024 1303.8h5.9V1371.2h-5.9zM1031.9 1316.8h5.9V1371.2h-5.9zM1039.8 1371.2h5.9V1380.2h-5.9zM1047.7 1371.2h5.9V1385.8h-5.9zM1055.7 1371.2h5.9V1387.8h-5.9zM1063.6 1371.2h5.9V1391.1h-5.9zM1071.5 1371.2h5.9V1389.8h-5.9zM1079.4 1371.2h5.9V1400.1h-5.9zM1087.3 1371.2h5.9V1404.7h-5.9zM1095.2 1371.2h5.9V1393.8h-5.9zM1103.1 1359.2h5.9V1371.2h-5.9zM1111 1371.2h5.9V1391.8h-5.9zM1118.9 1371.2h5.9V1392.1h-5.9zM1126.8 1371.2h5.9V1392.8h-5.9zM1134.7 1371.2h5.9V1385.5h-5.9zM1142.7 1371.2h5.9V1385.8h-5.9zM1150.6 1371.2h5.9V1394.1h-5.9zM1158.5 1371.2h5.9V1391.1h-5.9zM1166.4 1371.2h5.9V1400.4h-5.9zM1174.3 1371.2h5.9V1385.5h-5.9zM1182.2 1371.2h5.9V1400.1h-5.9zM1190.1 1371.2h5.9V1393.1h-5.9zM1198 1371.2h5.9V1411.4h-5.9zM1205.9 1371.2h5.9V1391.1h-5.9zM1213.8 1371.2h5.9V1400.1h-5.9zM1221.7 1371.2h5.9V1379.5h-5.9zM1229.6 1371.2h5.9V1391.1h-5.9zM1237.6 1371.2h5.9V1383.8h-5.9zM1245.5 1371.2h5.9V1394.1h-5.9zM1253.4 1371.2h5.9V1394.4h-5.9zM1261.3 1371.2h5.9V1392.1h-5.9zM1269.2 1371.2h5.9V1382.8h-5.9zM1277.1 1371.2h5.9V1389.8h-5.9zM1285 1371.2h5.9V1394.4h-5.9zM1292.9 1371.2h5.9V1386.1h-5.9zM1300.8 1371.2h5.9V1376.8h-5.9zM1308.7 1371.2h5.9V1388.5h-5.9zM1316.6 1371.2h5.9V1394.1h-5.9zM1324.6 1371.2h5.9V1376.8h-5.9zM1332.5 1371.2h5.9V1381.2h-5.9zM1340.4 1371.2h5.9V1391.1h-5.9zM1348.3 1371.2h5.9V1394.4h-5.9zM1356.2 1371.2h5.9V1404.7h-5.9zM1364.1 1371.2h5.9V1390.1h-5.9zM1372 1371.2h5.9V1399.4h-5.9zM1379.9 1371.2h5.9V1397.8h-5.9zM1387.8 1371.2h5.9V1409.4h-5.9zM1395.7 1371.2h5.9V1393.8h-5.9zM1403.6 1371.2h5.9V1393.1h-5.9zM1411.6 1371.2h5.9V1404.1h-5.9zM1419.5 1371.2h5.9V1397.4h-5.9zM1427.4 1371.2h5.9V1386.5h-5.9zM1435.3 1371.2h5.9V1395.1h-5.9zM1443.2 1371.2h5.9V1381.8h-5.9zM1451.1 1371.2h5.9V1385.1h-5.9zM1459 1371.2h5.9V1401.1h-5.9zM1466.9 1359.9h5.9V1371.2h-5.9zM1474.8 1371.2h5.9V1402.1h-5.9z"/>
<path class="base" d="M47.1 1371.2H1484.4"/>
<path class="ax" d="M93.7 1255v13.4M93.7 1487.4v-13.4M141.2 1255v13.4M141.2 1487.4v-13.4M188.6 1255v13.4M188.6 1487.4v-13.4M236.1 1255v13.4M236.1 1487.4v-13.4M283.5 1255v13.4M283.5 1487.4v-13.4M331 1255v13.4M331 1487.4v-13.4M378.4 1255v13.4M378.4 1487.4v-13.4M425.9 1255v13.4M425.9 1487.4v-13.4M473.3 1255v13.4M473.3 1487.4v-13.4M520.8 1255v13.4M520.8 1487.4v-13.4M568.2 1255v13.4M568.2 1487.4v-13.4M615.7 1255v13.4M615.7 1487.4v-13.4M663.2 1255v13.4M663.2 1487.4v-13.4M710.6 1255v13.4M710.6 1487.4v-13.4M758.1 1255v13.4M758.1 1487.4v-13.4M805.5 1255v13.4M805.5 1487.4v-13.4M853 1255v13.4M853 1487.4v-13.4M900.4 1255v13.4M900.4 1487.4v-13.4M947.9 1255v13.4M947.9 1487.4v-13.4M995.3 1255v13.4M995.3 1487.4v-13.4M1042.8 1255v13.4M1042.8 1487.4v-13.4M1090.2 1255v13.4M1090.2 1487.4v-13.4M1137.7 1255v13.4M1137.7 1487.4v-13.4M1185.1 1255v13.4M1185.1 1487.4v-13.4M1232.6 1255v13.4M1232.6 1487.4v-13.4M1280.1 1255v13.4M1280.1 1487.4v-13.4M1327.5 1255v13.4M1327.5 1487.4v-13.4M1375 1255v13.4M1375 1487.4v-13.4M1422.4 1255v13.4M1422.4 1487.4v-13.4M1469.9 1255v13.4M1469.9 1487.4v-13.4M47.1 1470.8h13.4M1484.4 1470.8h-13.4M47.1 1437.6h13.4M1484.4 1437.6h-13.4M47.1 1404.4h13.4M1484.4 1404.4h-13.4M47.1 1371.2h13.4M1484.4 1371.2h-13.4M47.1 1338h13.4M1484.4 1338h-13.4M47.1 1304.8h13.4M1484.4 1304.8h-13.4M47.1 1271.6h13.4M1484.4 1271.6h-13.4"/>
<rect class="box" x="47.1" y="1255" width="1437.3" height="232.4"/>
<text class="tk e" style="font-size:12.60px" transform="translate(46 1473.5) rotate(-45)">-3</text>
<text class="tk e" style="font-size:12.60px" transform="translate(46 1440.3) rotate(-45)">-2</text>
<text class="tk e" style="font-size:12.60px" transform="translate(46 1407.1) rotate(-45)">-1</text>
<text class="tk e" style="font-size:12.60px" transform="translate(46 1373.9) rotate(-45)">0</text>
<text class="tk e" style="font-size:12.60px" transform="translate(46 1340.7) rotate(-45)">1</text>
<text class="tk e" style="font-size:12.60px" transform="translate(46 1307.5) rotate(-45)">2</text>
<text class="tk e" style="font-size:12.60px" transform="translate(46 1274.2) rotate(-45)">3</text>
<text class="lab2" style="font-size:13.70px" transform="translate(18 1371.2) rotate(-90)">Standardized Precipitation</text>
<text class="tk e" style="font-size:12.60px" transform="translate(54 1500.7) rotate(-45)">Apr-02</text>
<text class="tk e" style="font-size:12.60px" transform="translate(100.6 1500.7) rotate(-45)">Oct-02</text>
<text class="tk e" style="font-size:12.60px" transform="translate(148.1 1500.7) rotate(-45)">Apr-03</text>
<text class="tk e" style="font-size:12.60px" transform="translate(195.5 1500.7) rotate(-45)">Oct-03</text>
<text class="tk e" style="font-size:12.60px" transform="translate(243 1500.7) rotate(-45)">Apr-04</text>
<text class="tk e" style="font-size:12.60px" transform="translate(290.4 1500.7) rotate(-45)">Oct-04</text>
<text class="tk e" style="font-size:12.60px" transform="translate(337.9 1500.7) rotate(-45)">Apr-05</text>
<text class="tk e" style="font-size:12.60px" transform="translate(385.3 1500.7) rotate(-45)">Oct-05</text>
<text class="tk e" style="font-size:12.60px" transform="translate(432.8 1500.7) rotate(-45)">Apr-06</text>
<text class="tk e" style="font-size:12.60px" transform="translate(480.2 1500.7) rotate(-45)">Oct-06</text>
<text class="tk e" style="font-size:12.60px" transform="translate(527.7 1500.7) rotate(-45)">Apr-07</text>
<text class="tk e" style="font-size:12.60px" transform="translate(575.1 1500.7) rotate(-45)">Oct-07</text>
<text class="tk e" style="font-size:12.60px" transform="translate(622.6 1500.7) rotate(-45)">Apr-08</text>
<text class="tk e" style="font-size:12.60px" transform="translate(670.1 1500.7) rotate(-45)">Oct-08</text>
<text class="tk e" style="font-size:12.60px" transform="translate(717.5 1500.7) rotate(-45)">Apr-09</text>
<text class="tk e" style="font-size:12.60px" transform="translate(765 1500.7) rotate(-45)">Oct-09</text>
<text class="tk e" style="font-size:12.60px" transform="translate(812.4 1500.7) rotate(-45)">Apr-10</text>
<text class="tk e" style="font-size:12.60px" transform="translate(859.9 1500.7) rotate(-45)">Oct-10</text>
<text class="tk e" style="font-size:12.60px" transform="translate(907.3 1500.7) rotate(-45)">Apr-11</text>
<text class="tk e" style="font-size:12.60px" transform="translate(954.8 1500.7) rotate(-45)">Oct-11</text>
<text class="tk e" style="font-size:12.60px" transform="translate(1002.2 1500.7) rotate(-45)">Apr-12</text>
<text class="tk e" style="font-size:12.60px" transform="translate(1049.7 1500.7) rotate(-45)">Oct-12</text>
<text class="tk e" style="font-size:12.60px" transform="translate(1097.1 1500.7) rotate(-45)">Apr-13</text>
<text class="tk e" style="font-size:12.60px" transform="translate(1144.6 1500.7) rotate(-45)">Oct-13</text>
<text class="tk e" style="font-size:12.60px" transform="translate(1192 1500.7) rotate(-45)">Apr-14</text>
<text class="tk e" style="font-size:12.60px" transform="translate(1239.5 1500.7) rotate(-45)">Oct-14</text>
<text class="tk e" style="font-size:12.60px" transform="translate(1287 1500.7) rotate(-45)">Apr-15</text>
<text class="tk e" style="font-size:12.60px" transform="translate(1334.4 1500.7) rotate(-45)">Oct-15</text>
<text class="tk e" style="font-size:12.60px" transform="translate(1381.9 1500.7) rotate(-45)">Apr-16</text>
<text class="tk e" style="font-size:12.60px" transform="translate(1429.3 1500.7) rotate(-45)">Oct-16</text>
<text class="tk e" style="font-size:12.60px" transform="translate(1476.8 1500.7) rotate(-45)">Apr-17</text>
<text class="ttl" x="732" y="1588.5" textLength="37.9" lengthAdjust="spacingAndGlyphs">(f)</text>
<clipPath id="c9"><rect x="47.1" y="1605.7" width="1434.9" height="411.3"/></clipPath>
<path class="grid" d="M93.7 1605.7V2017M141.1 1605.7V2017M188.4 1605.7V2017M235.8 1605.7V2017M283.2 1605.7V2017M330.5 1605.7V2017M377.9 1605.7V2017M425.3 1605.7V2017M472.7 1605.7V2017M520 1605.7V2017M567.4 1605.7V2017M614.8 1605.7V2017M662.1 1605.7V2017M709.5 1605.7V2017M756.9 1605.7V2017M804.2 1605.7V2017M851.6 1605.7V2017M899 1605.7V2017M946.4 1605.7V2017M993.7 1605.7V2017M1041.1 1605.7V2017M1088.5 1605.7V2017M1135.8 1605.7V2017M1183.2 1605.7V2017M1230.6 1605.7V2017M1277.9 1605.7V2017M1325.3 1605.7V2017M1372.7 1605.7V2017M1420.1 1605.7V2017M1467.4 1605.7V2017M47.1 1987.6H1482M47.1 1928.9H1482M47.1 1870.1H1482M47.1 1811.3H1482M47.1 1752.6H1482M47.1 1693.8H1482M47.1 1635.1H1482"/>
<g class="un"><path class="ax" d="M93.7 1605.7v13.4M93.7 2017v-13.4M141.1 1605.7v13.4M141.1 2017v-13.4M188.4 1605.7v13.4M188.4 2017v-13.4M235.8 1605.7v13.4M235.8 2017v-13.4M283.2 1605.7v13.4M283.2 2017v-13.4M330.5 1605.7v13.4M330.5 2017v-13.4M377.9 1605.7v13.4M377.9 2017v-13.4M425.3 1605.7v13.4M425.3 2017v-13.4M472.7 1605.7v13.4M472.7 2017v-13.4M520 1605.7v13.4M520 2017v-13.4M567.4 1605.7v13.4M567.4 2017v-13.4M614.8 1605.7v13.4M614.8 2017v-13.4M662.1 1605.7v13.4M662.1 2017v-13.4M709.5 1605.7v13.4M709.5 2017v-13.4M756.9 1605.7v13.4M756.9 2017v-13.4M804.2 1605.7v13.4M804.2 2017v-13.4M851.6 1605.7v13.4M851.6 2017v-13.4M899 1605.7v13.4M899 2017v-13.4M946.4 1605.7v13.4M946.4 2017v-13.4M993.7 1605.7v13.4M993.7 2017v-13.4M1041.1 1605.7v13.4M1041.1 2017v-13.4M1088.5 1605.7v13.4M1088.5 2017v-13.4M1135.8 1605.7v13.4M1135.8 2017v-13.4M1183.2 1605.7v13.4M1183.2 2017v-13.4M1230.6 1605.7v13.4M1230.6 2017v-13.4M1277.9 1605.7v13.4M1277.9 2017v-13.4M1325.3 1605.7v13.4M1325.3 2017v-13.4M1372.7 1605.7v13.4M1372.7 2017v-13.4M1420.1 1605.7v13.4M1420.1 2017v-13.4M1467.4 1605.7v13.4M1467.4 2017v-13.4M47.1 1987.6h13.4M1482 1987.6h-13.4M47.1 1928.9h13.4M1482 1928.9h-13.4M47.1 1870.1h13.4M1482 1870.1h-13.4M47.1 1811.3h13.4M1482 1811.3h-13.4M47.1 1752.6h13.4M1482 1752.6h-13.4M47.1 1693.8h13.4M1482 1693.8h-13.4M47.1 1635.1h13.4M1482 1635.1h-13.4"/><rect class="box" x="47.1" y="1605.7" width="1434.9" height="411.3"/></g>
<clipPath id="c10"><rect x="46.5" y="1605.1" width="1436.1" height="412.5"/></clipPath>
<g clip-path="url(#c10)">
<rect class="pr" x="70" y="1604.7" width="15.8" height="413.3"/>
<rect class="pr" x="741.1" y="1604.7" width="78.9" height="413.3"/>
<rect class="pr" x="1080.6" y="1604.7" width="15.8" height="413.3"/>
<rect class="pr" x="1167.4" y="1604.7" width="15.8" height="413.3"/>
<rect class="pr" x="1230.6" y="1604.7" width="31.6" height="413.3"/>
<rect class="pr" x="1309.5" y="1604.7" width="55.3" height="413.3"/>
<rect class="pr" x="1428" y="1604.7" width="39.5" height="413.3"/>
<rect class="pg" x="741.1" y="1604.7" width="86.8" height="413.3"/>
<rect class="pg" x="1214.8" y="1604.7" width="55.3" height="413.3"/>
<rect class="pg" x="1301.6" y="1604.7" width="55.3" height="413.3"/>
<rect class="pg" x="1380.6" y="1604.7" width="110.5" height="413.3"/>
</g>
<clipPath id="c11"><path clip-rule="evenodd" d="M45.1 1603.7H1484V2019H45.1zM70 1604.2H85.8V2018.5H70zM741.1 1604.2H827.9V2018.5H741.1zM1080.6 1604.2H1096.4V2018.5H1080.6zM1167.4 1604.2H1183.2V2018.5H1167.4zM1214.8 1604.2H1270.1V2018.5H1214.8zM1301.6 1604.2H1364.8V2018.5H1301.6zM1380.6 1604.2H1483.5V2018.5H1380.6z"/></clipPath>
<g clip-path="url(#c11)"><path class="ax" d="M93.7 1605.7v13.4M93.7 2017v-13.4M141.1 1605.7v13.4M141.1 2017v-13.4M188.4 1605.7v13.4M188.4 2017v-13.4M235.8 1605.7v13.4M235.8 2017v-13.4M283.2 1605.7v13.4M283.2 2017v-13.4M330.5 1605.7v13.4M330.5 2017v-13.4M377.9 1605.7v13.4M377.9 2017v-13.4M425.3 1605.7v13.4M425.3 2017v-13.4M472.7 1605.7v13.4M472.7 2017v-13.4M520 1605.7v13.4M520 2017v-13.4M567.4 1605.7v13.4M567.4 2017v-13.4M614.8 1605.7v13.4M614.8 2017v-13.4M662.1 1605.7v13.4M662.1 2017v-13.4M709.5 1605.7v13.4M709.5 2017v-13.4M756.9 1605.7v13.4M756.9 2017v-13.4M804.2 1605.7v13.4M804.2 2017v-13.4M851.6 1605.7v13.4M851.6 2017v-13.4M899 1605.7v13.4M899 2017v-13.4M946.4 1605.7v13.4M946.4 2017v-13.4M993.7 1605.7v13.4M993.7 2017v-13.4M1041.1 1605.7v13.4M1041.1 2017v-13.4M1088.5 1605.7v13.4M1088.5 2017v-13.4M1135.8 1605.7v13.4M1135.8 2017v-13.4M1183.2 1605.7v13.4M1183.2 2017v-13.4M1230.6 1605.7v13.4M1230.6 2017v-13.4M1277.9 1605.7v13.4M1277.9 2017v-13.4M1325.3 1605.7v13.4M1325.3 2017v-13.4M1372.7 1605.7v13.4M1372.7 2017v-13.4M1420.1 1605.7v13.4M1420.1 2017v-13.4M1467.4 1605.7v13.4M1467.4 2017v-13.4M47.1 1987.6h13.4M1482 1987.6h-13.4M47.1 1928.9h13.4M1482 1928.9h-13.4M47.1 1870.1h13.4M1482 1870.1h-13.4M47.1 1811.3h13.4M1482 1811.3h-13.4M47.1 1752.6h13.4M1482 1752.6h-13.4M47.1 1693.8h13.4M1482 1693.8h-13.4M47.1 1635.1h13.4M1482 1635.1h-13.4"/><rect class="box" x="47.1" y="1605.7" width="1434.9" height="411.3"/></g>
<g clip-path="url(#c9)">
<polyline class="lb" points="46.3,1793.1 54.2,1796.1 62.1,1782 70,1898.3 77.9,1883.6 85.8,1850.1 93.7,1840.7 101.6,1821.3 109.5,1782 117.4,1792.5 125.3,1691.5 133.2,1813.1 141.1,1840.1 149,1840.1 156.9,1724.4 164.8,1705.6 172.6,1826.6 180.5,1850.7 188.4,1774.9 196.3,1793.1 204.2,1757.9 212.1,1747.9 220,1783.1 227.9,1774.9 235.8,1767.9 243.7,1817.8 251.6,1824.9 259.5,1869.5 267.4,1812.5 275.3,1863.6 283.2,1686.2 291.1,1814.9 299,1806.1 306.9,1810.2 314.8,1810.8 322.7,1804.9 330.5,1771.4 338.4,1783.7 346.3,1839.6 354.2,1820.8 362.1,1870.7 370,1753.8 377.9,1826.6 385.8,1819.6 393.7,1799.6 401.6,1804.9 409.5,1823.1 417.4,1773.2 425.3,1831.3 433.2,1857.2 441.1,1811.9 449,1851.3 456.9,1680.3 464.8,1794.3 472.7,1777.3 480.6,1791.4 488.4,1747.9 496.3,1740.8 504.2,1717.3 512.1,1670.3 520,1774.9 527.9,1801.9 535.8,1822.5 543.7,1770.2 551.6,1842.5 559.5,1823.7 567.4,1806.1 575.3,1801.9 583.2,1780.2 591.1,1767.9 599,1801.4 606.9,1787.8 614.8,1730.3 622.7,1726.7 630.6,1762.6 638.5,1849.5 646.4,1808.4 654.2,1841.3 662.1,1822.5 670,1821.3 677.9,1766.1 685.8,1796.1 693.7,1821.3 701.6,1780.8 709.5,1839.6 717.4,1844.8 725.3,1861.9 733.2,1818.4 741.1,1882.4 749,1883.6 756.9,1867.8 764.8,1847.8 772.7,1854.8 780.6,1853.7 788.5,1848.4 796.4,1887.1 804.2,1896 812.1,1914.2 820,1890.1 827.9,1776.7 835.8,1770.8 843.7,1752.6 851.6,1831.3 859.5,1628.6 867.4,1787.8 875.3,1816.1 883.2,1777.9 891.1,1828.4 899,1821.3 906.9,1845.4 914.8,1870.1 922.7,1816.1 930.6,1772.6 938.5,1707.9 946.4,1779.6 954.3,1785.5 962.1,1749.7 970,1745.5 977.9,1791.4 985.8,1796.7 993.7,1723.8 1001.6,1808.4 1009.5,1861.9 1017.4,1850.1 1025.3,1784.3 1033.2,1752.6 1041.1,1820.8 1049,1814.3 1056.9,1797.2 1064.8,1753.2 1072.7,1788.4 1080.6,1851.3 1088.5,1844.3 1096.4,1867.2 1104.3,1786.7 1112.2,1809.6 1120,1800.8 1127.9,1757.9 1135.8,1725 1143.7,1821.3 1151.6,1816.1 1159.5,1838.4 1167.4,1853.1 1175.3,1848.4 1183.2,1846 1191.1,1723.8 1199,1876.6 1206.9,1821.3 1214.8,1835.4 1222.7,1774.3 1230.6,1887.1 1238.5,1850.1 1246.4,1877.2 1254.3,1874.2 1262.2,1877.2 1270.1,1782.6 1277.9,1749.1 1285.8,1700.9 1293.7,1729.1 1301.6,1678.6 1309.5,1874.8 1317.4,1871.3 1325.3,1912.4 1333.2,1866 1341.1,1905.9 1349,1913.6 1356.9,1871.3 1364.8,1846 1372.7,1811.3 1380.6,1871.9 1388.5,1836.6 1396.4,1836 1404.3,1729.1 1412.2,1893 1420.1,1811.3 1428,1891.3 1435.8,1941.2 1443.7,1918.9 1451.6,1912.4 1459.5,1921.2 1467.4,1941.2 1475.3,1784.9 1483.2,1699.7"/>
<polyline class="lo" points="46.3,1766.1 54.2,1763.8 62.1,1747.3 70,1766.7 77.9,1812.5 85.8,1816.6 93.7,1812.5 101.6,1810.8 109.5,1796.1 117.4,1791.4 125.3,1799 133.2,1785.5 141.1,1807.8 149,1799.6 156.9,1752.6 164.8,1735.6 172.6,1726.2 180.5,1752.6 188.4,1740.8 196.3,1749.7 204.2,1750.8 212.1,1746.1 220,1736.1 227.9,1740.8 235.8,1750.2 243.7,1783.7 251.6,1787.8 259.5,1812.5 267.4,1802.5 275.3,1807.8 283.2,1796.1 291.1,1792.5 299,1800.2 306.9,1801.9 314.8,1784.9 322.7,1779 330.5,1811.9 338.4,1806.1 346.3,1830.2 354.2,1780.2 362.1,1812.5 370,1817.8 377.9,1797.8 385.8,1799.6 393.7,1793.7 401.6,1797.8 409.5,1800.8 417.4,1817.8 425.3,1830.2 433.2,1840.1 441.1,1839 449,1827.8 456.9,1742.6 464.8,1737.3 472.7,1745 480.6,1747.3 488.4,1741.4 496.3,1739.1 504.2,1739.7 512.1,1725 520,1728.5 527.9,1758.5 535.8,1763.8 543.7,1681.5 551.6,1720.3 559.5,1763.2 567.4,1774.3 575.3,1766.1 583.2,1779.6 591.1,1763.8 599,1765.5 606.9,1763.8 614.8,1781.4 622.7,1796.1 630.6,1792.5 638.5,1787.8 646.4,1766.1 654.2,1801.9 662.1,1801.4 670,1804.9 677.9,1794.3 685.8,1790.8 693.7,1797.8 701.6,1801.9 709.5,1807.8 717.4,1829 725.3,1849.5 733.2,1826 741.1,1862.5 749,1854.8 756.9,1847.8 764.8,1856.6 772.7,1852.5 780.6,1849 788.5,1843.7 796.4,1882.4 804.2,1907.7 812.1,1900.1 820,1909.5 827.9,1900.1 835.8,1806.6 843.7,1790.8 851.6,1804.9 859.5,1809.6 867.4,1793.1 875.3,1808.4 883.2,1801.9 891.1,1802.5 899,1784.9 906.9,1836 914.8,1809.6 922.7,1790.2 930.6,1801.9 938.5,1737.9 946.4,1745.5 954.3,1735 962.1,1742.6 970,1745 977.9,1748.5 985.8,1764.9 993.7,1768.5 1001.6,1826.6 1009.5,1837.2 1017.4,1864.8 1025.3,1849 1033.2,1777.9 1041.1,1795.5 1049,1788.4 1056.9,1792 1064.8,1788.4 1072.7,1798.4 1080.6,1831.9 1088.5,1836 1096.4,1841.3 1104.3,1837.8 1112.2,1834.9 1120,1792.5 1127.9,1809.6 1135.8,1795.5 1143.7,1805.5 1151.6,1811.3 1159.5,1834.9 1167.4,1848.4 1175.3,1834.9 1183.2,1866.6 1191.1,1768.5 1199,1763.8 1206.9,1804.9 1214.8,1874.8 1222.7,1875.4 1230.6,1867.2 1238.5,1860.1 1246.4,1874.8 1254.3,1878.3 1262.2,1884.8 1270.1,1854.8 1277.9,1819.6 1285.8,1670.3 1293.7,1697.4 1301.6,1887.1 1309.5,1903 1317.4,1877.2 1325.3,1893 1333.2,1891.8 1341.1,1905.4 1349,1898.9 1356.9,1880.1 1364.8,1843.7 1372.7,1769.6 1380.6,1846 1388.5,1852.5 1396.4,1870.1 1404.3,1900.1 1412.2,1950 1420.1,1956.5 1428,1953.5 1435.8,1943.6 1443.7,1937.1 1451.6,1940.6 1459.5,1958.8 1467.4,1953.5 1475.3,1918.9 1483.2,1913.6"/>
</g>
<text class="tk e" style="font-size:13.98px" x="40.6" y="1993.1">-3</text>
<text class="tk e" style="font-size:13.98px" x="40.6" y="1934.4">-2</text>
<text class="tk e" style="font-size:13.98px" x="40.6" y="1875.6">-1</text>
<text class="tk e" style="font-size:13.98px" x="40.6" y="1816.8">0</text>
<text class="tk e" style="font-size:13.98px" x="40.6" y="1758.1">1</text>
<text class="tk e" style="font-size:13.98px" x="40.6" y="1699.3">2</text>
<text class="tk e" style="font-size:13.98px" x="40.6" y="1640.6">3</text>
<text class="lab" style="font-size:15.47px" transform="translate(20.4 1811.3) rotate(-90)">Index Value</text>
<rect class="leg" x="1237.6" y="1616.8" width="233.4" height="32.1"/>
<path class="ll lbc" d="M1241.6 1625.8h41.9"/>
<path class="ll loc" d="M1362.4 1625.8h41.9"/>
<rect x="1258.2" y="1635.5" width="9" height="9" fill="#fa8383"/>
<rect x="1379.2" y="1635.5" width="9.3" height="9" fill="#0b8043"/>
<text class="lg" style="font-size:11.03px" x="1286.7" y="1630">CCDI</text>
<text class="lg" style="font-size:11.03px" x="1408.1" y="1630">DSI</text>
<text class="lg" style="font-size:11.03px" x="1286.7" y="1645.4">CCDI drought</text>
<text class="lg" style="font-size:11.03px" x="1408.1" y="1645.4">DSI drought</text>
<clipPath id="c12"><rect x="47.1" y="2033" width="1434.9" height="233"/></clipPath>
<path class="grid" d="M93.7 2033V2266M141.1 2033V2266M188.4 2033V2266M235.8 2033V2266M283.2 2033V2266M330.5 2033V2266M377.9 2033V2266M425.3 2033V2266M472.7 2033V2266M520 2033V2266M567.4 2033V2266M614.8 2033V2266M662.1 2033V2266M709.5 2033V2266M756.9 2033V2266M804.2 2033V2266M851.6 2033V2266M899 2033V2266M946.4 2033V2266M993.7 2033V2266M1041.1 2033V2266M1088.5 2033V2266M1135.8 2033V2266M1183.2 2033V2266M1230.6 2033V2266M1277.9 2033V2266M1325.3 2033V2266M1372.7 2033V2266M1420.1 2033V2266M1467.4 2033V2266M47.1 2249.4H1482M47.1 2216.1H1482M47.1 2182.8H1482M47.1 2149.5H1482M47.1 2116.2H1482M47.1 2082.9H1482M47.1 2049.6H1482"/>
<path class="bar" clip-path="url(#c12)" d="M43.4 2149.5h5.9V2162.8h-5.9zM51.3 2149.5h5.9V2162.5h-5.9zM59.2 2140.8h5.9V2149.5h-5.9zM67.1 2149.5h5.9V2200.4h-5.9zM75 2149.5h5.9V2190.8h-5.9zM82.9 2149.5h5.9V2172.5h-5.9zM90.7 2149.5h5.9V2165.8h-5.9zM98.6 2149.5h5.9V2155.8h-5.9zM106.5 2101.2h5.9V2149.5h-5.9zM114.4 2149.5h5.9V2157.8h-5.9zM122.3 2049.6h5.9V2149.5h-5.9zM130.2 2149.5h5.9V2172.5h-5.9zM138.1 2149.5h5.9V2178.8h-5.9zM146 2149.5h5.9V2177.1h-5.9zM153.9 2106.9h5.9V2149.5h-5.9zM161.8 2093.2h5.9V2149.5h-5.9zM169.7 2149.5h5.9V2160.8h-5.9zM177.6 2149.5h5.9V2181.8h-5.9zM185.5 2149.5h5.9V2165.5h-5.9zM193.4 2149.5h5.9V2157.8h-5.9zM201.3 2149.5h5.9V2165.5h-5.9zM209.2 2149.5h5.9V2161.5h-5.9zM217.1 2149.5h5.9V2166.5h-5.9zM225 2149.5h5.9V2173.1h-5.9zM240.8 2149.5h5.9V2169.1h-5.9zM248.6 2149.5h5.9V2160.2h-5.9zM256.5 2149.5h5.9V2182.5h-5.9zM272.3 2149.5h5.9V2182.5h-5.9zM280.2 2082.9h5.9V2149.5h-5.9zM288.1 2149.5h5.9V2157.8h-5.9zM296 2149.5h5.9V2165.5h-5.9zM303.9 2149.5h5.9V2167.8h-5.9zM311.8 2149.5h5.9V2163.5h-5.9zM319.7 2149.5h5.9V2169.5h-5.9zM327.6 2110.9h5.9V2149.5h-5.9zM335.5 2131.2h5.9V2149.5h-5.9zM343.4 2149.5h5.9V2163.5h-5.9zM351.3 2149.5h5.9V2155.5h-5.9zM359.2 2149.5h5.9V2183.8h-5.9zM367.1 2112.9h5.9V2149.5h-5.9zM375 2149.5h5.9V2165.5h-5.9zM382.9 2149.5h5.9V2157.8h-5.9zM390.8 2149.5h5.9V2165.5h-5.9zM398.7 2149.5h5.9V2168.5h-5.9zM406.5 2149.5h5.9V2166.5h-5.9zM414.4 2109.2h5.9V2149.5h-5.9zM422.3 2149.5h5.9V2158.2h-5.9zM430.2 2149.5h5.9V2168.8h-5.9zM438.1 2146.5h5.9V2149.5h-5.9zM446 2149.5h5.9V2171.5h-5.9zM453.9 2077.6h5.9V2149.5h-5.9zM469.7 2149.5h5.9V2164.8h-5.9zM477.6 2149.5h5.9V2157.8h-5.9zM485.5 2149.5h5.9V2163.8h-5.9zM493.4 2149.5h5.9V2168.5h-5.9zM501.3 2107.9h5.9V2149.5h-5.9zM509.2 2082.9h5.9V2149.5h-5.9zM517.1 2149.5h5.9V2172.5h-5.9zM525 2149.5h5.9V2170.5h-5.9zM532.9 2149.5h5.9V2162.5h-5.9zM540.8 2132.2h5.9V2149.5h-5.9zM548.7 2149.5h5.9V2171.5h-5.9zM556.6 2149.5h5.9V2164.1h-5.9zM564.4 2149.5h5.9V2165.8h-5.9zM572.3 2149.5h5.9V2157.8h-5.9zM580.2 2146.5h5.9V2149.5h-5.9zM588.1 2149.5h5.9V2167.5h-5.9zM596 2149.5h5.9V2166.1h-5.9zM603.9 2149.5h5.9V2165.5h-5.9zM611.8 2095.2h5.9V2149.5h-5.9zM619.7 2093.9h5.9V2149.5h-5.9zM627.6 2122.9h5.9V2149.5h-5.9zM635.5 2149.5h5.9V2172.1h-5.9zM651.3 2149.5h5.9V2169.1h-5.9zM659.2 2149.5h5.9V2161.5h-5.9zM667.1 2149.5h5.9V2157.8h-5.9zM675 2050.0h5.9V2149.5h-5.9zM682.9 2149.5h5.9V2165.5h-5.9zM690.8 2149.5h5.9V2166.1h-5.9zM698.7 2127.9h5.9V2149.5h-5.9zM706.6 2149.5h5.9V2177.8h-5.9zM714.5 2149.5h5.9V2165.5h-5.9zM722.3 2149.5h5.9V2173.8h-5.9zM730.2 2149.5h5.9V2151.5h-5.9zM738.1 2149.5h5.9V2187.8h-5.9zM746 2149.5h5.9V2188.4h-5.9zM753.9 2149.5h5.9V2164.1h-5.9zM761.8 2149.5h5.9V2157.5h-5.9zM769.7 2149.5h5.9V2165.5h-5.9zM777.6 2149.5h5.9V2154.8h-5.9zM785.5 2149.5h5.9V2162.1h-5.9zM793.4 2149.5h5.9V2172.8h-5.9zM801.3 2149.5h5.9V2162.8h-5.9zM809.2 2149.5h5.9V2179.8h-5.9zM817.1 2149.5h5.9V2182.5h-5.9zM825 2126.2h5.9V2149.5h-5.9zM832.9 2127.2h5.9V2149.5h-5.9zM840.8 2115.9h5.9V2149.5h-5.9zM848.7 2149.5h5.9V2165.5h-5.9zM856.6 2029.7h5.9V2149.5h-5.9zM864.5 2128.9h5.9V2149.5h-5.9zM872.4 2149.5h5.9V2168.5h-5.9zM880.2 2124.9h5.9V2149.5h-5.9zM888.1 2149.5h5.9V2172.5h-5.9zM896 2149.5h5.9V2178.5h-5.9zM903.9 2149.5h5.9V2162.5h-5.9zM911.8 2149.5h5.9V2184.1h-5.9zM919.7 2149.5h5.9V2152.5h-5.9zM927.6 2125.9h5.9V2149.5h-5.9zM935.5 2094.9h5.9V2149.5h-5.9zM943.4 2149.5h5.9V2165.5h-5.9zM951.3 2149.5h5.9V2157.8h-5.9zM959.2 2149.5h5.9V2165.5h-5.9zM967.1 2149.5h5.9V2163.5h-5.9zM975 2149.5h5.9V2166.1h-5.9zM982.9 2149.5h5.9V2172.8h-5.9zM990.8 2096.2h5.9V2149.5h-5.9zM998.7 2136.2h5.9V2149.5h-5.9zM1006.6 2149.5h5.9V2175.5h-5.9zM1014.5 2149.5h5.9V2168.5h-5.9zM1022.4 2132.9h5.9V2149.5h-5.9zM1030.3 2117.2h5.9V2149.5h-5.9zM1038.1 2149.5h5.9V2162.8h-5.9zM1046 2149.5h5.9V2157.8h-5.9zM1053.9 2149.5h5.9V2158.5h-5.9zM1061.8 2066.0h5.9V2149.5h-5.9zM1069.7 2137.2h5.9V2149.5h-5.9zM1077.6 2149.5h5.9V2171.1h-5.9zM1085.5 2149.5h5.9V2162.8h-5.9zM1093.4 2149.5h5.9V2175.1h-5.9zM1101.3 2131.5h5.9V2149.5h-5.9zM1109.2 2148.5h5.9V2149.5h-5.9zM1117.1 2144.8h5.9V2149.5h-5.9zM1125 2115.9h5.9V2149.5h-5.9zM1132.9 2106.9h5.9V2149.5h-5.9zM1140.8 2149.5h5.9V2157.5h-5.9zM1148.7 2149.5h5.9V2165.5h-5.9zM1156.6 2149.5h5.9V2155.2h-5.9zM1164.5 2149.5h5.9V2164.5h-5.9zM1172.4 2149.5h5.9V2165.5h-5.9zM1180.3 2143.5h5.9V2149.5h-5.9zM1188.2 2106.2h5.9V2149.5h-5.9zM1196 2149.5h5.9V2194.8h-5.9zM1203.9 2149.5h5.9V2154.5h-5.9zM1211.8 2149.5h5.9V2159.8h-5.9zM1219.7 2117.9h5.9V2149.5h-5.9zM1227.6 2149.5h5.9V2165.5h-5.9zM1235.5 2149.5h5.9V2157.8h-5.9zM1243.4 2149.5h5.9V2165.5h-5.9zM1251.3 2125.2h5.9V2149.5h-5.9zM1259.2 2149.5h5.9V2166.5h-5.9zM1267.1 2084.9h5.9V2149.5h-5.9zM1275 2086.9h5.9V2149.5h-5.9zM1282.9 2141.8h5.9V2149.5h-5.9zM1290.8 2117.2h5.9V2149.5h-5.9zM1298.7 2071.3h5.9V2149.5h-5.9zM1306.6 2149.5h5.9V2181.8h-5.9zM1314.5 2149.5h5.9V2177.8h-5.9zM1322.4 2149.5h5.9V2165.5h-5.9zM1330.3 2149.5h5.9V2157.8h-5.9zM1338.2 2149.5h5.9V2165.5h-5.9zM1346.1 2149.5h5.9V2168.5h-5.9zM1353.9 2149.5h5.9V2165.1h-5.9zM1361.8 2149.5h5.9V2163.5h-5.9zM1369.7 2149.5h5.9V2178.8h-5.9zM1377.6 2149.5h5.9V2176.8h-5.9zM1385.5 2149.5h5.9V2158.5h-5.9zM1393.4 2149.5h5.9V2160.5h-5.9zM1401.3 2097.9h5.9V2149.5h-5.9zM1409.2 2149.5h5.9V2182.1h-5.9zM1417.1 2070.6h5.9V2149.5h-5.9zM1425 2149.5h5.9V2157.8h-5.9zM1432.9 2149.5h5.9V2165.5h-5.9zM1440.8 2079.6h5.9V2149.5h-5.9zM1448.7 2149.5h5.9V2166.1h-5.9zM1456.6 2135.9h5.9V2149.5h-5.9zM1464.5 2149.5h5.9V2173.5h-5.9zM1472.4 2072.6h5.9V2149.5h-5.9zM1480.3 2070.6h5.9V2149.5h-5.9z"/>
<path class="base" d="M47.1 2149.5H1482"/>
<path class="ax" d="M93.7 2033v13.4M93.7 2266v-13.4M141.1 2033v13.4M141.1 2266v-13.4M188.4 2033v13.4M188.4 2266v-13.4M235.8 2033v13.4M235.8 2266v-13.4M283.2 2033v13.4M283.2 2266v-13.4M330.5 2033v13.4M330.5 2266v-13.4M377.9 2033v13.4M377.9 2266v-13.4M425.3 2033v13.4M425.3 2266v-13.4M472.7 2033v13.4M472.7 2266v-13.4M520 2033v13.4M520 2266v-13.4M567.4 2033v13.4M567.4 2266v-13.4M614.8 2033v13.4M614.8 2266v-13.4M662.1 2033v13.4M662.1 2266v-13.4M709.5 2033v13.4M709.5 2266v-13.4M756.9 2033v13.4M756.9 2266v-13.4M804.2 2033v13.4M804.2 2266v-13.4M851.6 2033v13.4M851.6 2266v-13.4M899 2033v13.4M899 2266v-13.4M946.4 2033v13.4M946.4 2266v-13.4M993.7 2033v13.4M993.7 2266v-13.4M1041.1 2033v13.4M1041.1 2266v-13.4M1088.5 2033v13.4M1088.5 2266v-13.4M1135.8 2033v13.4M1135.8 2266v-13.4M1183.2 2033v13.4M1183.2 2266v-13.4M1230.6 2033v13.4M1230.6 2266v-13.4M1277.9 2033v13.4M1277.9 2266v-13.4M1325.3 2033v13.4M1325.3 2266v-13.4M1372.7 2033v13.4M1372.7 2266v-13.4M1420.1 2033v13.4M1420.1 2266v-13.4M1467.4 2033v13.4M1467.4 2266v-13.4M47.1 2249.4h13.4M1482 2249.4h-13.4M47.1 2216.1h13.4M1482 2216.1h-13.4M47.1 2182.8h13.4M1482 2182.8h-13.4M47.1 2149.5h13.4M1482 2149.5h-13.4M47.1 2116.2h13.4M1482 2116.2h-13.4M47.1 2082.9h13.4M1482 2082.9h-13.4M47.1 2049.6h13.4M1482 2049.6h-13.4"/>
<rect class="box" x="47.1" y="2033" width="1434.9" height="233"/>
<text class="tk e" style="font-size:12.58px" transform="translate(46 2252) rotate(-45)">-3</text>
<text class="tk e" style="font-size:12.58px" transform="translate(46 2218.7) rotate(-45)">-2</text>
<text class="tk e" style="font-size:12.58px" transform="translate(46 2185.4) rotate(-45)">-1</text>
<text class="tk e" style="font-size:12.58px" transform="translate(46 2152.1) rotate(-45)">0</text>
<text class="tk e" style="font-size:12.58px" transform="translate(46 2118.9) rotate(-45)">1</text>
<text class="tk e" style="font-size:12.58px" transform="translate(46 2085.6) rotate(-45)">2</text>
<text class="tk e" style="font-size:12.58px" transform="translate(46 2052.3) rotate(-45)">3</text>
<text class="lab2" style="font-size:13.68px" transform="translate(18 2149.5) rotate(-90)">Standardized Precipitation</text>
<text class="tk e" style="font-size:12.58px" transform="translate(54 2279.3) rotate(-45)">Apr-02</text>
<text class="tk e" style="font-size:12.58px" transform="translate(100.6 2279.3) rotate(-45)">Oct-02</text>
<text class="tk e" style="font-size:12.58px" transform="translate(148 2279.3) rotate(-45)">Apr-03</text>
<text class="tk e" style="font-size:12.58px" transform="translate(195.3 2279.3) rotate(-45)">Oct-03</text>
<text class="tk e" style="font-size:12.58px" transform="translate(242.7 2279.3) rotate(-45)">Apr-04</text>
<text class="tk e" style="font-size:12.58px" transform="translate(290.1 2279.3) rotate(-45)">Oct-04</text>
<text class="tk e" style="font-size:12.58px" transform="translate(337.4 2279.3) rotate(-45)">Apr-05</text>
<text class="tk e" style="font-size:12.58px" transform="translate(384.8 2279.3) rotate(-45)">Oct-05</text>
<text class="tk e" style="font-size:12.58px" transform="translate(432.2 2279.3) rotate(-45)">Apr-06</text>
<text class="tk e" style="font-size:12.58px" transform="translate(479.5 2279.3) rotate(-45)">Oct-06</text>
<text class="tk e" style="font-size:12.58px" transform="translate(526.9 2279.3) rotate(-45)">Apr-07</text>
<text class="tk e" style="font-size:12.58px" transform="translate(574.3 2279.3) rotate(-45)">Oct-07</text>
<text class="tk e" style="font-size:12.58px" transform="translate(621.7 2279.3) rotate(-45)">Apr-08</text>
<text class="tk e" style="font-size:12.58px" transform="translate(669 2279.3) rotate(-45)">Oct-08</text>
<text class="tk e" style="font-size:12.58px" transform="translate(716.4 2279.3) rotate(-45)">Apr-09</text>
<text class="tk e" style="font-size:12.58px" transform="translate(763.8 2279.3) rotate(-45)">Oct-09</text>
<text class="tk e" style="font-size:12.58px" transform="translate(811.1 2279.3) rotate(-45)">Apr-10</text>
<text class="tk e" style="font-size:12.58px" transform="translate(858.5 2279.3) rotate(-45)">Oct-10</text>
<text class="tk e" style="font-size:12.58px" transform="translate(905.9 2279.3) rotate(-45)">Apr-11</text>
<text class="tk e" style="font-size:12.58px" transform="translate(953.2 2279.3) rotate(-45)">Oct-11</text>
<text class="tk e" style="font-size:12.58px" transform="translate(1000.6 2279.3) rotate(-45)">Apr-12</text>
<text class="tk e" style="font-size:12.58px" transform="translate(1048 2279.3) rotate(-45)">Oct-12</text>
<text class="tk e" style="font-size:12.58px" transform="translate(1095.4 2279.3) rotate(-45)">Apr-13</text>
<text class="tk e" style="font-size:12.58px" transform="translate(1142.7 2279.3) rotate(-45)">Oct-13</text>
<text class="tk e" style="font-size:12.58px" transform="translate(1190.1 2279.3) rotate(-45)">Apr-14</text>
<text class="tk e" style="font-size:12.58px" transform="translate(1237.5 2279.3) rotate(-45)">Oct-14</text>
<text class="tk e" style="font-size:12.58px" transform="translate(1284.8 2279.3) rotate(-45)">Apr-15</text>
<text class="tk e" style="font-size:12.58px" transform="translate(1332.2 2279.3) rotate(-45)">Oct-15</text>
<text class="tk e" style="font-size:12.58px" transform="translate(1379.6 2279.3) rotate(-45)">Apr-16</text>
<text class="tk e" style="font-size:12.58px" transform="translate(1426.9 2279.3) rotate(-45)">Oct-16</text>
<text class="tk e" style="font-size:12.58px" transform="translate(1474.3 2279.3) rotate(-45)">Apr-17</text>
</svg>
</body></html>
